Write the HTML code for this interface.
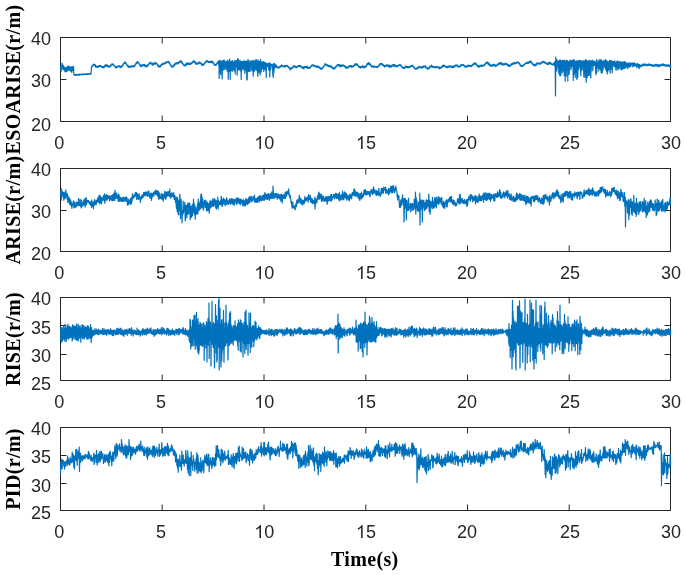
<!DOCTYPE html><html><head><meta charset="utf-8"><style>html,body{margin:0;padding:0;background:#fff;width:685px;height:575px;overflow:hidden}svg{display:block;filter:blur(0.45px)}text{font-family:"Liberation Sans",sans-serif;fill:#262626}.lab{font-family:"Liberation Serif",serif;font-weight:bold;font-size:20px;fill:#000;letter-spacing:0.33px}</style></head><body>
<svg width="685" height="575" viewBox="0 0 685 575">
<rect width="685" height="575" fill="#fff"/>
<path d="M60.5 37.5H670.5V121.5H60.5Z" fill="none" stroke="#262626" stroke-width="1"/>
<path d="M60.5 121.5v-6 M60.5 37.5v6 M162.2 121.5v-6 M162.2 37.5v6 M264.0 121.5v-6 M264.0 37.5v6 M365.8 121.5v-6 M365.8 37.5v6 M467.5 121.5v-6 M467.5 37.5v6 M569.2 121.5v-6 M569.2 37.5v6 M670.5 121.5v-6 M670.5 37.5v6 M60.5 37.5h6 M670.5 37.5h-6 M60.5 79.5h6 M670.5 79.5h-6 M60.5 121.5h6 M670.5 121.5h-6" stroke="#262626" stroke-width="1" fill="none"/>
<text x="51" y="45.0" font-size="18" text-anchor="end">40</text>
<text x="51" y="86.8" font-size="18" text-anchor="end">30</text>
<text x="51" y="130.5" font-size="18" text-anchor="end">20</text>
<text x="59.2" y="148.9" font-size="18" text-anchor="middle">0</text>
<text x="161.1" y="148.9" font-size="18" text-anchor="middle">5</text>
<path transform="translate(254.29 148.95) scale(0.00879 -0.00879)" fill="#262626" d="M763 0L583 0L583 1147C540 1106 483 1065 413 1024C343 983 279 952 223 931L223 1105C324 1152 412 1210 487 1278C562 1346 615 1409 646 1466L763 1466Z"/>
<text x="264.30" y="148.9" font-size="18">0</text>
<path transform="translate(355.94 148.95) scale(0.00879 -0.00879)" fill="#262626" d="M763 0L583 0L583 1147C540 1106 483 1065 413 1024C343 983 279 952 223 931L223 1105C324 1152 412 1210 487 1278C562 1346 615 1409 646 1466L763 1466Z"/>
<text x="365.95" y="148.9" font-size="18">5</text>
<text x="467.1" y="148.9" font-size="18" text-anchor="middle">20</text>
<text x="570.0" y="148.9" font-size="18" text-anchor="middle">25</text>
<text x="671.0" y="148.9" font-size="18" text-anchor="middle">30</text>
<text class="lab" transform="translate(20.3 79.5) rotate(-90)" text-anchor="middle">ESOARISE(r/m)</text>
<path d="M60.5 168.5H670.5V251.5H60.5Z" fill="none" stroke="#262626" stroke-width="1"/>
<path d="M60.5 251.5v-6 M60.5 168.5v6 M162.2 251.5v-6 M162.2 168.5v6 M264.0 251.5v-6 M264.0 168.5v6 M365.8 251.5v-6 M365.8 168.5v6 M467.5 251.5v-6 M467.5 168.5v6 M569.2 251.5v-6 M569.2 168.5v6 M670.5 251.5v-6 M670.5 168.5v6 M60.5 168.5h6 M670.5 168.5h-6 M60.5 210.5h6 M670.5 210.5h-6 M60.5 251.5h6 M670.5 251.5h-6" stroke="#262626" stroke-width="1" fill="none"/>
<text x="51" y="175.8" font-size="18" text-anchor="end">40</text>
<text x="51" y="217.8" font-size="18" text-anchor="end">30</text>
<text x="51" y="260.4" font-size="18" text-anchor="end">20</text>
<text x="59.2" y="278.9" font-size="18" text-anchor="middle">0</text>
<text x="161.1" y="278.9" font-size="18" text-anchor="middle">5</text>
<path transform="translate(254.29 278.95) scale(0.00879 -0.00879)" fill="#262626" d="M763 0L583 0L583 1147C540 1106 483 1065 413 1024C343 983 279 952 223 931L223 1105C324 1152 412 1210 487 1278C562 1346 615 1409 646 1466L763 1466Z"/>
<text x="264.30" y="278.9" font-size="18">0</text>
<path transform="translate(355.94 278.95) scale(0.00879 -0.00879)" fill="#262626" d="M763 0L583 0L583 1147C540 1106 483 1065 413 1024C343 983 279 952 223 931L223 1105C324 1152 412 1210 487 1278C562 1346 615 1409 646 1466L763 1466Z"/>
<text x="365.95" y="278.9" font-size="18">5</text>
<text x="467.1" y="278.9" font-size="18" text-anchor="middle">20</text>
<text x="570.0" y="278.9" font-size="18" text-anchor="middle">25</text>
<text x="671.0" y="278.9" font-size="18" text-anchor="middle">30</text>
<text class="lab" transform="translate(20.3 210.0) rotate(-90)" text-anchor="middle">ARISE(r/m)</text>
<path d="M60.5 297.5H670.5V380.5H60.5Z" fill="none" stroke="#262626" stroke-width="1"/>
<path d="M60.5 380.5v-6 M60.5 297.5v6 M162.2 380.5v-6 M162.2 297.5v6 M264.0 380.5v-6 M264.0 297.5v6 M365.8 380.5v-6 M365.8 297.5v6 M467.5 380.5v-6 M467.5 297.5v6 M569.2 380.5v-6 M569.2 297.5v6 M670.5 380.5v-6 M670.5 297.5v6 M60.5 297.5h6 M670.5 297.5h-6 M60.5 325.5h6 M670.5 325.5h-6 M60.5 354.5h6 M670.5 354.5h-6 M60.5 380.5h6 M670.5 380.5h-6" stroke="#262626" stroke-width="1" fill="none"/>
<text x="51" y="305.3" font-size="18" text-anchor="end">40</text>
<text x="51" y="333.8" font-size="18" text-anchor="end">35</text>
<text x="51" y="361.6" font-size="18" text-anchor="end">30</text>
<text x="51" y="389.6" font-size="18" text-anchor="end">25</text>
<text x="59.2" y="407.9" font-size="18" text-anchor="middle">0</text>
<text x="161.1" y="407.9" font-size="18" text-anchor="middle">5</text>
<path transform="translate(254.29 407.95) scale(0.00879 -0.00879)" fill="#262626" d="M763 0L583 0L583 1147C540 1106 483 1065 413 1024C343 983 279 952 223 931L223 1105C324 1152 412 1210 487 1278C562 1346 615 1409 646 1466L763 1466Z"/>
<text x="264.30" y="407.9" font-size="18">0</text>
<path transform="translate(355.94 407.95) scale(0.00879 -0.00879)" fill="#262626" d="M763 0L583 0L583 1147C540 1106 483 1065 413 1024C343 983 279 952 223 931L223 1105C324 1152 412 1210 487 1278C562 1346 615 1409 646 1466L763 1466Z"/>
<text x="365.95" y="407.9" font-size="18">5</text>
<text x="467.1" y="407.9" font-size="18" text-anchor="middle">20</text>
<text x="570.0" y="407.9" font-size="18" text-anchor="middle">25</text>
<text x="671.0" y="407.9" font-size="18" text-anchor="middle">30</text>
<text class="lab" transform="translate(20.3 339.0) rotate(-90)" text-anchor="middle">RISE(r/m)</text>
<path d="M60.5 427.5H670.5V510.5H60.5Z" fill="none" stroke="#262626" stroke-width="1"/>
<path d="M60.5 510.5v-6 M60.5 427.5v6 M162.2 510.5v-6 M162.2 427.5v6 M264.0 510.5v-6 M264.0 427.5v6 M365.8 510.5v-6 M365.8 427.5v6 M467.5 510.5v-6 M467.5 427.5v6 M569.2 510.5v-6 M569.2 427.5v6 M670.5 510.5v-6 M670.5 427.5v6 M60.5 427.5h6 M670.5 427.5h-6 M60.5 455.5h6 M670.5 455.5h-6 M60.5 483.5h6 M670.5 483.5h-6 M60.5 510.5h6 M670.5 510.5h-6" stroke="#262626" stroke-width="1" fill="none"/>
<text x="51" y="434.8" font-size="18" text-anchor="end">40</text>
<text x="51" y="463.4" font-size="18" text-anchor="end">35</text>
<text x="51" y="491.6" font-size="18" text-anchor="end">30</text>
<text x="51" y="519.2" font-size="18" text-anchor="end">25</text>
<text x="59.2" y="538.0" font-size="18" text-anchor="middle">0</text>
<text x="161.1" y="538.0" font-size="18" text-anchor="middle">5</text>
<path transform="translate(254.29 537.95) scale(0.00879 -0.00879)" fill="#262626" d="M763 0L583 0L583 1147C540 1106 483 1065 413 1024C343 983 279 952 223 931L223 1105C324 1152 412 1210 487 1278C562 1346 615 1409 646 1466L763 1466Z"/>
<text x="264.30" y="538.0" font-size="18">0</text>
<path transform="translate(355.94 537.95) scale(0.00879 -0.00879)" fill="#262626" d="M763 0L583 0L583 1147C540 1106 483 1065 413 1024C343 983 279 952 223 931L223 1105C324 1152 412 1210 487 1278C562 1346 615 1409 646 1466L763 1466Z"/>
<text x="365.95" y="538.0" font-size="18">5</text>
<text x="467.1" y="538.0" font-size="18" text-anchor="middle">20</text>
<text x="570.0" y="538.0" font-size="18" text-anchor="middle">25</text>
<text x="671.0" y="538.0" font-size="18" text-anchor="middle">30</text>
<text class="lab" transform="translate(20.3 469.0) rotate(-90)" text-anchor="middle">PID(r/m)</text>
<defs>
<clipPath id="c0"><rect x="59.5" y="37.0" width="612.0" height="85.0"/></clipPath>
<clipPath id="c1"><rect x="59.5" y="168.0" width="612.0" height="84.0"/></clipPath>
<clipPath id="c2"><rect x="59.5" y="297.0" width="612.0" height="84.0"/></clipPath>
<clipPath id="c3"><rect x="59.5" y="427.0" width="612.0" height="84.0"/></clipPath>
</defs>
<path clip-path="url(#c0)" d="M60.5 66.4L60.8 69.6 61.0 66.0 61.2 71.2 61.5 66.1 61.8 68.5 62.0 63.2 62.2 68.3 62.5 63.8 62.8 68.5 63.0 65.6 63.2 69.7 63.5 65.6 63.8 69.9 64.0 66.6 64.2 69.9 64.5 67.8 64.8 71.3 65.0 67.6 65.2 70.4 65.5 67.8 65.8 71.7 66.0 67.9 66.2 71.9 66.5 68.9 66.8 71.1 67.0 66.8 67.2 69.8 67.5 67.0 67.8 70.8 68.0 66.2 68.2 69.7 68.5 66.2 68.8 69.9 69.0 66.5 69.2 70.1 69.5 67.1 69.8 70.2 70.0 66.4 70.2 70.4 70.5 67.4 70.8 71.4 71.0 67.6 71.2 69.6 71.5 66.8 71.8 72.4 72.0 66.8 72.2 70.4 72.5 67.4 72.8 69.0 73.0 66.7 73.2 70.4 73.5 66.3 73.8 73.8 74.0 74.8 74.2 75.2 74.5 74.7 74.8 75.5 75.0 74.8 75.2 75.1 75.5 74.6 75.8 75.3 76.0 74.6 76.2 74.9 76.5 74.3 76.8 75.1 77.0 74.5 77.2 75.1 77.5 74.5 77.8 74.9 78.0 74.4 78.2 75.1 78.5 74.4 78.8 74.8 79.0 74.4 79.2 75.1 79.5 74.2 79.8 75.1 80.0 74.3 80.2 74.7 80.5 74.3 80.8 74.6 81.0 74.3 81.2 74.7 81.5 74.3 81.8 74.7 82.0 74.2 82.2 74.7 82.5 74.1 82.8 74.6 83.0 74.1 83.2 74.6 83.5 74.1 83.8 74.5 84.0 74.1 84.2 74.4 84.5 74.0 84.8 74.4 85.0 74.0 85.2 74.3 85.5 74.0 85.8 74.4 86.0 73.9 86.2 74.3 86.5 73.9 86.8 74.4 87.0 73.8 87.2 74.6 87.5 73.8 87.8 74.3 88.0 73.7 88.2 74.3 88.5 73.8 88.8 74.2 89.0 73.8 89.2 74.1 89.5 73.7 89.8 74.4 90.0 73.7 90.2 74.1 90.5 73.5 90.8 74.1 91.0 73.5 91.2 71.0 91.5 66.6 91.8 67.3 92.0 65.9 92.2 66.5 92.5 65.5 92.8 65.9 93.0 64.9 93.2 65.3 93.5 64.1 93.8 65.4 94.0 64.4 94.2 65.4 94.5 64.5 94.8 65.4 95.0 64.8 95.2 66.0 95.5 64.8 95.8 67.1 96.0 66.1 96.2 67.0 96.5 66.4 96.8 67.2 97.0 66.5 97.2 67.4 97.5 66.4 97.8 67.4 98.0 66.2 98.2 67.4 98.5 65.9 98.8 66.6 99.0 65.7 99.2 66.6 99.5 65.6 99.8 66.5 100.0 65.4 100.2 66.3 100.5 65.5 100.8 66.6 101.0 65.9 101.2 66.9 101.5 66.5 101.8 67.3 102.0 66.4 102.2 67.5 102.5 66.7 102.8 67.7 103.0 66.6 103.2 67.9 103.5 67.0 103.8 67.4 104.0 66.3 104.2 67.7 104.5 65.9 104.8 66.7 105.0 65.4 105.2 66.3 105.5 64.5 105.8 66.0 106.0 65.3 106.2 66.2 106.5 65.0 106.8 65.9 107.0 64.6 107.2 66.4 107.5 65.4 107.8 66.5 108.0 65.7 108.2 66.9 108.5 66.0 108.8 67.1 109.0 65.8 109.2 67.0 109.5 66.0 109.8 67.1 110.0 66.0 110.2 66.9 110.5 65.3 110.8 66.0 111.0 64.7 111.2 65.4 111.5 64.6 111.8 64.8 112.0 63.5 112.2 64.8 112.5 64.0 112.8 64.9 113.0 64.1 113.2 65.0 113.5 64.5 113.8 65.6 114.0 65.0 114.2 65.9 114.5 65.8 114.8 66.5 115.0 66.2 115.2 67.1 115.5 66.4 115.8 67.6 116.0 66.5 116.2 68.1 116.5 66.5 116.8 67.5 117.0 66.3 117.2 66.9 117.5 66.4 117.8 66.9 118.0 66.2 118.2 66.8 118.5 65.9 118.8 66.6 119.0 65.9 119.2 66.5 119.5 65.8 119.8 66.9 120.0 66.0 120.2 67.6 120.5 66.1 120.8 67.1 121.0 66.2 121.2 66.9 121.5 66.2 121.8 67.3 122.0 65.6 122.2 66.1 122.5 64.9 122.8 65.5 123.0 64.2 123.2 65.1 123.5 63.3 123.8 63.7 124.0 63.0 124.2 63.6 124.5 62.3 124.8 63.4 125.0 61.7 125.2 63.3 125.5 62.6 125.8 63.8 126.0 63.1 126.2 64.1 126.5 63.7 126.8 65.1 127.0 64.8 127.2 65.7 127.5 65.3 127.8 66.7 128.0 65.4 128.2 67.1 128.5 66.6 128.8 67.4 129.0 66.3 129.2 67.5 129.5 66.3 129.8 67.3 130.0 66.4 130.2 66.7 130.5 66.3 130.8 67.0 131.0 65.8 131.2 67.1 131.5 65.9 131.8 66.8 132.0 66.1 132.2 66.6 132.5 66.0 132.8 66.8 133.0 65.9 133.2 66.8 133.5 65.9 133.8 66.7 134.0 65.4 134.2 66.3 134.5 65.0 134.8 66.3 135.0 64.6 135.2 65.1 135.5 63.8 135.8 64.2 136.0 63.1 136.2 63.8 136.5 62.4 136.8 63.7 137.0 62.3 137.2 62.6 137.5 61.5 137.8 62.8 138.0 62.0 138.2 62.9 138.5 62.3 138.8 63.6 139.0 63.2 139.2 64.3 139.5 64.2 139.8 65.0 140.0 64.7 140.2 66.2 140.5 64.9 140.8 66.8 141.0 65.0 141.2 66.3 141.5 65.2 141.8 66.0 142.0 65.1 142.2 66.1 142.5 64.6 142.8 65.8 143.0 64.9 143.2 65.5 143.5 64.7 143.8 65.6 144.0 64.7 144.2 65.7 144.5 64.4 144.8 66.2 145.0 65.2 145.2 66.3 145.5 65.4 145.8 67.1 146.0 65.0 146.2 66.6 146.5 65.7 146.8 66.5 147.0 65.5 147.2 65.9 147.5 65.0 147.8 66.3 148.0 64.4 148.2 65.2 148.5 63.8 148.8 64.6 149.0 63.5 149.2 64.0 149.5 62.9 149.8 63.7 150.0 62.7 150.2 63.6 150.5 62.0 150.8 63.6 151.0 62.8 151.2 63.8 151.5 63.3 151.8 64.3 152.0 63.1 152.2 64.6 152.5 63.3 152.8 65.3 153.0 63.6 153.2 64.8 153.5 63.2 153.8 64.5 154.0 63.5 154.2 64.2 154.5 63.3 154.8 63.7 155.0 62.4 155.2 64.2 155.5 62.8 155.8 63.8 156.0 62.8 156.2 63.7 156.5 63.0 156.8 64.2 157.0 63.7 157.2 64.7 157.5 64.1 157.8 65.8 158.0 64.9 158.2 66.8 158.5 65.5 158.8 66.5 159.0 66.0 159.2 67.0 159.5 66.2 159.8 66.9 160.0 65.9 160.2 67.1 160.5 65.2 160.8 66.0 161.0 65.4 161.2 65.6 161.5 64.4 161.8 65.4 162.0 63.9 162.2 64.4 162.5 63.5 162.8 64.3 163.0 63.3 163.2 64.1 163.5 63.2 163.8 64.4 164.0 63.1 164.2 63.9 164.5 63.0 164.8 63.7 165.0 63.0 165.2 63.7 165.5 62.1 165.8 63.5 166.0 62.3 166.2 63.1 166.5 61.8 166.8 62.5 167.0 61.8 167.2 62.3 167.5 61.5 167.8 62.1 168.0 61.2 168.2 62.5 168.5 61.3 168.8 63.0 169.0 61.9 169.2 63.2 169.5 62.5 169.8 63.8 170.0 63.6 170.2 64.9 170.5 64.5 170.8 65.8 171.0 65.3 171.2 66.4 171.5 65.8 171.8 67.0 172.0 66.5 172.2 66.9 172.5 66.1 172.8 67.4 173.0 65.9 173.2 66.7 173.5 65.0 173.8 66.0 174.0 64.6 174.2 65.8 174.5 63.8 174.8 65.3 175.0 63.4 175.2 64.3 175.5 63.2 175.8 64.2 176.0 63.0 176.2 64.1 176.5 62.9 176.8 63.6 177.0 62.9 177.2 63.7 177.5 62.6 177.8 63.5 178.0 62.6 178.2 63.9 178.5 62.2 178.8 63.0 179.0 62.1 179.2 62.3 179.5 61.4 179.8 62.3 180.0 61.1 180.2 62.2 180.5 61.0 180.8 61.8 181.0 60.5 181.2 62.2 181.5 61.0 181.8 62.7 182.0 61.9 182.2 63.3 182.5 62.7 182.8 63.7 183.0 63.7 183.2 64.9 183.5 64.4 183.8 65.3 184.0 64.8 184.2 65.9 184.5 65.0 184.8 65.6 185.0 65.0 185.2 65.6 185.5 64.1 185.8 65.9 186.0 64.1 186.2 65.4 186.5 63.1 186.8 64.5 187.0 63.4 187.2 64.3 187.5 63.1 187.8 64.1 188.0 63.2 188.2 64.3 188.5 63.0 188.8 64.0 189.0 63.2 189.2 64.4 189.5 63.4 189.8 64.4 190.0 63.5 190.2 64.4 190.5 63.3 190.8 64.0 191.0 63.2 191.2 64.0 191.5 62.6 191.8 63.5 192.0 62.5 192.2 63.0 192.5 61.6 192.8 62.6 193.0 61.3 193.2 62.3 193.5 60.9 193.8 62.1 194.0 60.7 194.2 62.2 194.5 61.6 194.8 62.3 195.0 61.7 195.2 63.2 195.5 62.1 195.8 63.5 196.0 62.8 196.2 64.4 196.5 62.7 196.8 64.5 197.0 63.2 197.2 63.7 197.5 63.2 197.8 63.5 198.0 63.0 198.2 63.6 198.5 62.5 198.8 63.9 199.0 61.8 199.2 63.1 199.5 62.2 199.8 63.0 200.0 62.3 200.2 63.4 200.5 62.6 200.8 63.7 201.0 62.9 201.2 64.1 201.5 63.5 201.8 65.3 202.0 63.9 202.2 65.0 202.5 64.3 202.8 65.2 203.0 64.3 203.2 65.3 203.5 64.1 203.8 65.0 204.0 63.6 204.2 64.4 204.5 63.0 204.8 63.6 205.0 62.3 205.2 62.9 205.5 61.5 205.8 62.2 206.0 61.2 206.2 61.9 206.5 60.7 206.8 61.7 207.0 60.9 207.2 61.8 207.5 61.1 207.8 61.7 208.0 61.1 208.2 62.4 208.5 61.6 208.8 62.3 209.0 61.7 209.2 62.3 209.5 61.6 209.8 62.5 210.0 61.6 210.2 62.6 210.5 61.4 210.8 62.5 211.0 61.2 211.2 62.7 211.5 61.4 211.8 62.0 212.0 61.7 212.2 62.5 212.5 61.1 212.8 62.9 213.0 62.7 213.2 63.4 213.5 62.8 213.8 64.0 214.0 63.7 214.2 65.0 214.5 64.0 214.8 65.3 215.0 64.5 215.2 65.4 215.5 64.5 215.8 65.3 216.0 64.2 216.2 65.0 216.5 63.9 216.8 64.3 217.0 63.2 217.2 63.6 217.5 62.2 217.8 62.9 218.0 61.5 218.2 63.3 218.5 60.9 218.8 65.5 219.0 61.9 219.2 78.5 219.5 60.6 219.8 72.4 220.0 60.3 220.2 66.4 220.5 61.7 220.8 74.6 221.0 61.4 221.2 70.0 221.5 61.8 221.8 70.4 222.0 60.9 222.2 79.1 222.5 61.1 222.8 70.1 223.0 60.6 223.2 64.6 223.5 60.7 223.8 69.8 224.0 59.8 224.2 65.8 224.5 60.5 224.8 66.5 225.0 61.8 225.2 69.5 225.5 62.2 225.8 67.6 226.0 61.8 226.2 68.2 226.5 61.4 226.8 69.1 227.0 61.8 227.2 71.0 227.5 60.1 227.8 71.4 228.0 61.8 228.2 79.2 228.5 61.8 228.8 66.1 229.0 61.4 229.2 71.3 229.5 59.1 229.8 65.9 230.0 62.0 230.2 79.4 230.5 61.0 230.8 70.5 231.0 62.0 231.2 70.4 231.5 61.4 231.8 65.6 232.0 61.6 232.2 71.5 232.5 60.6 232.8 63.8 233.0 61.8 233.2 69.6 233.5 62.6 233.8 63.4 234.0 62.6 234.2 70.8 234.5 60.7 234.8 66.4 235.0 61.1 235.2 73.9 235.5 61.2 235.8 66.8 236.0 60.5 236.2 66.9 236.5 60.6 236.8 63.8 237.0 60.8 237.2 75.2 237.5 58.9 237.8 69.3 238.0 60.3 238.2 66.9 238.5 59.2 238.8 69.9 239.0 62.5 239.2 64.6 239.5 61.2 239.8 69.6 240.0 60.3 240.2 70.6 240.5 61.2 240.8 66.6 241.0 62.0 241.2 79.4 241.5 61.7 241.8 64.3 242.0 61.5 242.2 68.9 242.5 61.4 242.8 63.7 243.0 61.3 243.2 69.8 243.5 62.2 243.8 68.6 244.0 61.0 244.2 65.1 244.5 60.9 244.8 73.4 245.0 61.3 245.2 70.9 245.5 62.2 245.8 69.4 246.0 61.1 246.2 63.8 246.5 61.3 246.8 80.1 247.0 61.4 247.2 79.7 247.5 61.3 247.8 67.3 248.0 59.4 248.2 71.4 248.5 62.6 248.8 64.9 249.0 60.8 249.2 71.1 249.5 62.3 249.8 71.5 250.0 62.0 250.2 70.9 250.5 60.9 250.8 63.2 251.0 62.7 251.2 66.5 251.5 60.9 251.8 70.3 252.0 61.9 252.2 70.9 252.5 62.1 252.8 66.8 253.0 60.1 253.2 76.2 253.5 61.3 253.8 67.8 254.0 62.2 254.2 71.7 254.5 60.6 254.8 65.5 255.0 61.8 255.2 69.8 255.5 61.2 255.8 64.4 256.0 59.3 256.2 69.4 256.5 60.4 256.8 70.7 257.0 61.0 257.2 70.8 257.5 62.9 257.8 76.5 258.0 59.7 258.2 71.3 258.5 62.0 258.8 72.7 259.0 61.3 259.2 71.8 259.5 62.0 259.8 64.0 260.0 61.3 260.2 74.9 260.5 59.3 260.8 63.1 261.0 61.9 261.2 72.1 261.5 62.5 261.8 69.0 262.0 62.0 262.2 63.4 262.5 62.5 262.8 68.9 263.0 61.7 263.2 65.1 263.5 61.8 263.8 71.4 264.0 62.0 264.2 68.5 264.5 63.6 264.8 67.8 265.0 62.5 265.2 69.6 265.5 62.8 265.8 70.5 266.0 62.9 266.2 77.4 266.5 63.5 266.8 64.7 267.0 63.9 267.2 66.8 267.5 64.1 267.8 65.3 268.0 63.3 268.2 66.4 268.5 63.6 268.8 69.6 269.0 63.0 269.2 70.4 269.5 62.5 269.8 76.9 270.0 63.4 270.2 66.0 270.5 64.3 270.8 69.6 271.0 64.4 271.2 66.7 271.5 64.4 271.8 65.2 272.0 64.4 272.2 65.5 272.5 64.5 272.8 75.3 273.0 64.3 273.2 77.5 273.5 64.0 273.8 73.0 274.0 63.3 274.2 70.1 274.5 63.7 274.8 66.2 275.0 64.5 275.2 67.2 275.5 64.7 275.8 67.5 276.0 65.1 276.2 66.9 276.5 65.3 276.8 67.0 277.0 66.4 277.2 67.7 277.5 67.1 277.8 68.0 278.0 67.2 278.2 68.2 278.5 67.5 278.8 67.9 279.0 67.0 279.2 68.0 279.5 66.7 279.8 67.6 280.0 66.2 280.2 67.0 280.5 65.8 280.8 66.7 281.0 65.6 281.2 66.5 281.5 64.8 281.8 66.4 282.0 65.4 282.2 66.2 282.5 65.8 282.8 66.5 283.0 65.8 283.2 66.8 283.5 66.0 283.8 66.7 284.0 65.8 284.2 66.9 284.5 65.8 284.8 66.9 285.0 65.4 285.2 66.5 285.5 65.7 285.8 66.6 286.0 65.5 286.2 66.3 286.5 65.4 286.8 66.2 287.0 65.4 287.2 66.2 287.5 65.8 287.8 66.9 288.0 66.1 288.2 67.3 288.5 66.7 288.8 67.7 289.0 67.0 289.2 68.7 289.5 67.7 289.8 68.9 290.0 68.0 290.2 69.9 290.5 68.2 290.8 69.4 291.0 68.2 291.2 69.0 291.5 67.9 291.8 68.6 292.0 67.4 292.2 68.0 292.5 67.0 292.8 67.8 293.0 66.6 293.2 67.3 293.5 65.5 293.8 66.9 294.0 65.9 294.2 66.9 294.5 66.0 294.8 66.9 295.0 66.0 295.2 67.2 295.5 66.2 295.8 67.2 296.0 66.5 296.2 68.0 296.5 66.5 296.8 67.4 297.0 66.6 297.2 67.2 297.5 66.2 297.8 67.0 298.0 65.7 298.2 66.5 298.5 65.6 298.8 66.4 299.0 65.5 299.2 66.5 299.5 65.5 299.8 66.2 300.0 65.3 300.2 66.6 300.5 65.5 300.8 66.5 301.0 66.0 301.2 67.1 301.5 66.6 301.8 67.8 302.0 66.9 302.2 68.0 302.5 67.5 302.8 68.2 303.0 67.2 303.2 68.6 303.5 67.4 303.8 68.8 304.0 66.6 304.2 68.0 304.5 66.4 304.8 67.6 305.0 66.7 305.2 67.5 305.5 66.5 305.8 67.6 306.0 66.6 306.2 67.3 306.5 66.3 306.8 67.8 307.0 66.5 307.2 67.8 307.5 66.3 307.8 68.1 308.0 67.2 308.2 68.3 308.5 67.5 308.8 68.4 309.0 67.5 309.2 68.3 309.5 67.3 309.8 68.1 310.0 67.0 310.2 67.9 310.5 66.7 310.8 67.1 311.0 66.1 311.2 66.3 311.5 65.4 311.8 66.2 312.0 64.9 312.2 65.8 312.5 64.8 312.8 65.7 313.0 65.1 313.2 65.6 313.5 64.8 313.8 65.7 314.0 65.2 314.2 66.3 314.5 65.5 314.8 66.4 315.0 65.7 315.2 66.6 315.5 65.9 315.8 66.9 316.0 66.3 316.2 67.1 316.5 66.2 316.8 67.5 317.0 66.1 317.2 67.1 317.5 66.2 317.8 67.1 318.0 66.2 318.2 67.2 318.5 66.4 318.8 67.6 319.0 66.5 319.2 67.9 319.5 67.3 319.8 68.3 320.0 67.6 320.2 68.9 320.5 68.0 320.8 69.1 321.0 68.2 321.2 69.4 321.5 68.3 321.8 69.0 322.0 68.2 322.2 68.8 322.5 67.7 322.8 68.2 323.0 66.8 323.2 67.4 323.5 66.1 323.8 66.5 324.0 65.5 324.2 65.6 324.5 65.0 324.8 65.6 325.0 63.7 325.2 65.0 325.5 64.2 325.8 64.9 326.0 64.2 326.2 65.2 326.5 64.3 326.8 65.1 327.0 64.7 327.2 65.6 327.5 64.9 327.8 66.2 328.0 65.3 328.2 66.4 328.5 65.4 328.8 66.6 329.0 65.7 329.2 66.4 329.5 65.4 329.8 66.8 330.0 65.9 330.2 66.8 330.5 65.9 330.8 66.9 331.0 66.1 331.2 67.1 331.5 66.3 331.8 67.6 332.0 66.7 332.2 68.2 332.5 67.4 332.8 68.7 333.0 68.0 333.2 69.0 333.5 68.3 333.8 68.9 334.0 67.7 334.2 69.1 334.5 67.9 334.8 68.7 335.0 67.4 335.2 68.2 335.5 66.7 335.8 67.5 336.0 66.2 336.2 66.8 336.5 65.6 336.8 66.2 337.0 65.0 337.2 65.8 337.5 64.7 337.8 65.3 338.0 64.3 338.2 65.4 338.5 64.7 338.8 65.9 339.0 64.6 339.2 65.9 339.5 65.2 339.8 66.0 340.0 64.9 340.2 66.9 340.5 65.4 340.8 66.3 341.0 64.9 341.2 66.4 341.5 65.5 341.8 66.3 342.0 65.2 342.2 66.2 342.5 65.0 342.8 65.8 343.0 65.0 343.2 66.0 343.5 65.1 343.8 66.1 344.0 65.3 344.2 66.2 344.5 65.7 344.8 67.0 345.0 66.3 345.2 67.1 345.5 66.3 345.8 68.2 346.0 67.0 346.2 68.0 346.5 66.8 346.8 68.3 347.0 67.5 347.2 68.0 347.5 67.0 347.8 68.1 348.0 66.6 348.2 67.5 348.5 66.4 348.8 67.1 349.0 66.2 349.2 66.5 349.5 65.7 349.8 66.7 350.0 65.5 350.2 66.1 350.5 65.9 350.8 66.5 351.0 65.7 351.2 67.3 351.5 65.7 351.8 67.0 352.0 65.9 352.2 66.9 352.5 66.1 352.8 67.1 353.0 65.9 353.2 66.5 353.5 65.5 353.8 66.4 354.0 65.4 354.2 65.8 354.5 64.2 354.8 65.5 355.0 64.3 355.2 65.1 355.5 63.9 355.8 64.9 356.0 63.7 356.2 64.5 356.5 64.1 356.8 65.0 357.0 64.1 357.2 65.4 357.5 64.1 357.8 65.7 358.0 65.5 358.2 66.5 358.5 66.0 358.8 67.1 359.0 66.2 359.2 67.3 359.5 66.4 359.8 67.7 360.0 66.6 360.2 67.6 360.5 66.8 360.8 68.1 361.0 66.7 361.2 67.5 361.5 66.3 361.8 67.2 362.0 66.7 362.2 67.3 362.5 65.7 362.8 67.2 363.0 66.6 363.2 67.4 363.5 66.6 363.8 67.7 364.0 66.2 364.2 67.7 364.5 66.3 364.8 67.7 365.0 66.6 365.2 67.6 365.5 66.2 365.8 66.6 366.0 65.6 366.2 66.7 366.5 65.1 366.8 65.7 367.0 63.7 367.2 65.0 367.5 63.7 367.8 64.5 368.0 63.2 368.2 64.1 368.5 62.9 368.8 63.7 369.0 62.7 369.2 64.7 369.5 63.5 369.8 64.2 370.0 63.6 370.2 65.0 370.5 64.4 370.8 65.8 371.0 65.0 371.2 66.4 371.5 65.6 371.8 67.1 372.0 65.9 372.2 66.8 372.5 66.2 372.8 67.0 373.0 66.3 373.2 67.1 373.5 66.2 373.8 67.6 374.0 66.4 374.2 67.2 374.5 66.2 374.8 66.7 375.0 66.3 375.2 67.1 375.5 66.6 375.8 67.0 376.0 66.5 376.2 67.3 376.5 66.5 376.8 67.4 377.0 66.6 377.2 67.6 377.5 66.5 377.8 67.3 378.0 66.1 378.2 66.6 378.5 65.9 378.8 66.2 379.0 65.2 379.2 65.7 379.5 64.5 379.8 65.3 380.0 63.6 380.2 64.7 380.5 63.5 380.8 64.5 381.0 63.3 381.2 64.2 381.5 63.5 381.8 64.1 382.0 63.5 382.2 64.8 382.5 64.1 382.8 65.4 383.0 64.5 383.2 65.7 383.5 64.9 383.8 66.3 384.0 65.1 384.2 66.4 384.5 65.8 384.8 67.2 385.0 65.7 385.2 66.4 385.5 65.8 385.8 66.4 386.0 65.2 386.2 66.2 386.5 65.0 386.8 66.1 387.0 64.5 387.2 65.9 387.5 65.1 387.8 66.2 388.0 65.2 388.2 66.0 388.5 65.4 388.8 66.8 389.0 65.6 389.2 66.7 389.5 65.2 389.8 67.5 390.0 65.4 390.2 66.9 390.5 66.1 390.8 66.9 391.0 65.9 391.2 66.6 391.5 65.7 391.8 67.0 392.0 65.1 392.2 66.2 392.5 64.9 392.8 65.9 393.0 64.9 393.2 65.7 393.5 64.6 393.8 66.1 394.0 64.9 394.2 66.2 394.5 64.3 394.8 66.0 395.0 65.1 395.2 66.8 395.5 65.4 395.8 66.4 396.0 65.4 396.2 66.4 396.5 65.9 396.8 66.7 397.0 66.0 397.2 66.8 397.5 65.6 397.8 66.5 398.0 65.5 398.2 66.1 398.5 65.1 398.8 65.6 399.0 64.9 399.2 65.3 399.5 64.5 399.8 65.4 400.0 64.8 400.2 65.6 400.5 64.7 400.8 66.1 401.0 65.0 401.2 66.2 401.5 66.1 401.8 67.2 402.0 66.4 402.2 67.7 402.5 67.2 402.8 68.0 403.0 67.3 403.2 68.5 403.5 67.4 403.8 68.3 404.0 67.5 404.2 67.8 404.5 67.1 404.8 68.5 405.0 66.8 405.2 67.6 405.5 66.2 405.8 67.3 406.0 66.4 406.2 67.3 406.5 66.7 406.8 67.5 407.0 66.4 407.2 67.3 407.5 66.6 407.8 67.8 408.0 66.6 408.2 67.6 408.5 66.7 408.8 67.7 409.0 66.7 409.2 67.7 409.5 66.7 409.8 67.3 410.0 66.3 410.2 67.2 410.5 66.2 410.8 66.7 411.0 65.6 411.2 66.5 411.5 65.6 411.8 66.3 412.0 65.3 412.2 66.2 412.5 65.3 412.8 66.3 413.0 65.8 413.2 66.9 413.5 66.2 413.8 67.6 414.0 67.0 414.2 68.1 414.5 67.6 414.8 68.9 415.0 68.3 415.2 69.2 415.5 68.5 415.8 69.2 416.0 68.3 416.2 69.0 416.5 68.1 416.8 69.1 417.0 67.9 417.2 68.6 417.5 67.3 417.8 68.3 418.0 67.2 418.2 68.4 418.5 66.9 418.8 67.7 419.0 66.8 419.2 67.5 419.5 66.4 419.8 67.7 420.0 67.1 420.2 67.7 420.5 66.8 420.8 67.8 421.0 67.0 421.2 67.9 421.5 66.9 421.8 67.7 422.0 66.7 422.2 68.1 422.5 66.7 422.8 67.7 423.0 66.3 423.2 67.3 423.5 66.2 423.8 67.1 424.0 66.0 424.2 66.8 424.5 66.1 424.8 67.0 425.0 66.2 425.2 67.2 425.5 65.8 425.8 67.6 426.0 66.9 426.2 68.0 426.5 67.2 426.8 68.3 427.0 67.6 427.2 68.8 427.5 68.2 427.8 69.4 428.0 67.8 428.2 68.9 428.5 67.8 428.8 68.7 429.0 67.6 429.2 68.6 429.5 66.9 429.8 67.7 430.0 66.0 430.2 67.2 430.5 66.0 430.8 66.9 431.0 65.8 431.2 67.2 431.5 65.2 431.8 66.7 432.0 66.0 432.2 66.8 432.5 66.0 432.8 67.2 433.0 66.3 433.2 67.5 433.5 66.6 433.8 67.5 434.0 67.2 434.2 67.6 434.5 67.2 434.8 67.8 435.0 66.3 435.2 67.8 435.5 66.5 435.8 67.6 436.0 67.0 436.2 67.5 436.5 66.7 436.8 67.0 437.0 66.3 437.2 67.5 437.5 66.7 437.8 67.5 438.0 67.0 438.2 67.8 438.5 66.9 438.8 68.5 439.0 67.1 439.2 68.8 439.5 67.2 439.8 68.6 440.0 67.6 440.2 68.5 440.5 67.5 440.8 68.3 441.0 67.4 441.2 67.8 441.5 66.7 441.8 67.4 442.0 66.0 442.2 67.5 442.5 65.7 442.8 66.4 443.0 65.4 443.2 66.0 443.5 65.1 443.8 66.0 444.0 65.0 444.2 66.7 444.5 65.3 444.8 66.2 445.0 66.0 445.2 66.8 445.5 66.2 445.8 66.8 446.0 66.5 446.2 67.4 446.5 66.7 446.8 67.6 447.0 66.9 447.2 67.8 447.5 66.7 447.8 67.4 448.0 66.2 448.2 67.5 448.5 66.2 448.8 67.2 449.0 66.2 449.2 67.1 449.5 66.0 449.8 66.7 450.0 66.0 450.2 66.8 450.5 65.9 450.8 67.0 451.0 66.5 451.2 67.3 451.5 66.4 451.8 67.5 452.0 66.1 452.2 67.6 452.5 66.7 452.8 67.6 453.0 66.0 453.2 67.4 453.5 66.3 453.8 67.3 454.0 66.1 454.2 66.9 454.5 65.8 454.8 67.0 455.0 65.4 455.2 66.0 455.5 65.0 455.8 65.7 456.0 64.8 456.2 65.9 456.5 65.2 456.8 65.7 457.0 65.2 457.2 66.0 457.5 65.0 457.8 66.6 458.0 65.9 458.2 67.0 458.5 66.3 458.8 67.2 459.0 66.2 459.2 67.2 459.5 66.3 459.8 66.6 460.0 65.9 460.2 66.5 460.5 65.5 460.8 66.3 461.0 64.5 461.2 65.5 461.5 64.8 461.8 65.3 462.0 64.6 462.2 65.3 462.5 64.6 462.8 65.2 463.0 64.7 463.2 65.5 463.5 64.7 463.8 65.7 464.0 65.1 464.2 66.2 464.5 65.5 464.8 66.8 465.0 65.9 465.2 67.1 465.5 66.1 465.8 67.3 466.0 66.1 466.2 67.1 466.5 66.2 466.8 66.8 467.0 65.9 467.2 66.6 467.5 65.8 467.8 66.6 468.0 65.4 468.2 66.3 468.5 65.2 468.8 66.2 469.0 65.4 469.2 66.3 469.5 65.4 469.8 66.2 470.0 65.6 470.2 66.5 470.5 65.7 470.8 66.7 471.0 65.9 471.2 66.6 471.5 65.1 471.8 66.2 472.0 65.2 472.2 65.9 472.5 64.7 472.8 65.3 473.0 64.2 473.2 64.6 473.5 63.4 473.8 64.0 474.0 63.4 474.2 64.4 474.5 62.8 474.8 64.1 475.0 62.9 475.2 63.9 475.5 63.1 475.8 64.3 476.0 63.6 476.2 64.9 476.5 63.9 476.8 65.5 477.0 64.9 477.2 65.9 477.5 65.5 477.8 66.6 478.0 65.7 478.2 66.7 478.5 65.4 478.8 67.4 479.0 66.0 479.2 66.8 479.5 65.9 479.8 66.7 480.0 65.9 480.2 66.1 480.5 65.4 480.8 66.2 481.0 65.2 481.2 66.7 481.5 65.4 481.8 66.2 482.0 65.0 482.2 66.1 482.5 65.3 482.8 66.1 483.0 65.4 483.2 66.2 483.5 65.2 483.8 65.7 484.0 64.8 484.2 65.5 484.5 64.4 484.8 65.2 485.0 63.9 485.2 64.7 485.5 63.0 485.8 63.8 486.0 62.7 486.2 63.5 486.5 62.6 486.8 63.3 487.0 61.9 487.2 63.1 487.5 62.3 487.8 62.9 488.0 62.5 488.2 64.4 488.5 63.1 488.8 64.1 489.0 63.0 489.2 64.9 489.5 64.2 489.8 65.9 490.0 64.8 490.2 65.9 490.5 64.8 490.8 66.2 491.0 65.3 491.2 66.2 491.5 65.3 491.8 66.3 492.0 64.7 492.2 66.1 492.5 64.9 492.8 65.9 493.0 64.7 493.2 65.7 493.5 64.5 493.8 65.5 494.0 64.4 494.2 65.7 494.5 64.0 494.8 65.8 495.0 65.0 495.2 65.9 495.5 65.1 495.8 66.7 496.0 65.2 496.2 66.1 496.5 65.0 496.8 65.8 497.0 64.8 497.2 65.6 497.5 64.4 497.8 64.9 498.0 63.7 498.2 64.7 498.5 63.4 498.8 64.2 499.0 63.2 499.2 64.3 499.5 62.9 499.8 63.5 500.0 62.6 500.2 63.5 500.5 62.7 500.8 64.1 501.0 62.5 501.2 64.5 501.5 63.6 501.8 64.9 502.0 63.2 502.2 64.9 502.5 63.6 502.8 64.7 503.0 63.9 503.2 64.8 503.5 64.0 503.8 65.1 504.0 63.8 504.2 65.0 504.5 63.8 504.8 64.5 505.0 63.3 505.2 64.3 505.5 63.4 505.8 64.1 506.0 63.2 506.2 64.3 506.5 63.5 506.8 64.8 507.0 63.8 507.2 64.7 507.5 64.3 507.8 65.5 508.0 64.8 508.2 66.0 508.5 64.6 508.8 66.1 509.0 65.6 509.2 66.6 509.5 65.4 509.8 66.4 510.0 65.6 510.2 66.2 510.5 64.9 510.8 65.4 511.0 64.6 511.2 65.1 511.5 63.7 511.8 64.8 512.0 63.4 512.2 64.3 512.5 63.1 512.8 64.5 513.0 63.2 513.2 63.9 513.5 62.8 513.8 63.9 514.0 63.1 514.2 63.5 514.5 62.4 514.8 64.0 515.0 63.0 515.2 63.8 515.5 62.9 515.8 63.7 516.0 62.6 516.2 63.4 516.5 62.2 516.8 63.1 517.0 62.1 517.2 62.9 517.5 62.0 517.8 62.6 518.0 62.2 518.2 62.9 518.5 62.1 518.8 63.3 519.0 62.5 519.2 63.8 519.5 63.1 519.8 64.4 520.0 64.1 520.2 65.6 520.5 64.7 520.8 65.9 521.0 65.3 521.2 66.4 521.5 65.8 521.8 66.8 522.0 65.6 522.2 66.6 522.5 65.6 522.8 66.3 523.0 65.2 523.2 66.0 523.5 64.8 523.8 65.5 524.0 64.5 524.2 65.0 524.5 64.1 524.8 64.4 525.0 63.3 525.2 64.2 525.5 63.2 525.8 63.6 526.0 62.8 526.2 63.6 526.5 62.7 526.8 63.5 527.0 62.6 527.2 63.3 527.5 62.5 527.8 63.5 528.0 61.8 528.2 63.1 528.5 62.1 528.8 63.3 529.0 62.0 529.2 62.7 529.5 61.4 529.8 62.5 530.0 61.3 530.2 62.2 530.5 61.0 530.8 62.3 531.0 60.9 531.2 62.9 531.5 62.0 531.8 63.1 532.0 62.5 532.2 63.8 532.5 63.4 532.8 64.6 533.0 63.8 533.2 65.0 533.5 64.5 533.8 65.6 534.0 64.8 534.2 65.6 534.5 64.4 534.8 66.0 535.0 65.1 535.2 65.7 535.5 64.1 535.8 65.2 536.0 64.1 536.2 65.4 536.5 63.7 536.8 64.5 537.0 62.7 537.2 64.0 537.5 63.1 537.8 63.8 538.0 63.0 538.2 63.7 538.5 63.0 538.8 63.9 539.0 63.1 539.2 64.5 539.5 63.0 539.8 64.0 540.0 63.1 540.2 63.9 540.5 63.2 540.8 63.9 541.0 62.6 541.2 63.4 541.5 61.9 541.8 63.1 542.0 61.9 542.2 62.8 542.5 61.8 542.8 62.3 543.0 61.5 543.2 62.1 543.5 61.3 543.8 62.1 544.0 61.5 544.2 62.7 544.5 62.1 544.8 63.1 545.0 62.2 545.2 63.1 545.5 62.2 545.8 63.5 546.0 63.1 546.2 63.9 546.5 63.3 546.8 64.1 547.0 63.2 547.2 64.4 547.5 63.2 547.8 64.5 548.0 63.0 548.2 64.6 548.5 63.1 548.8 63.6 549.0 62.3 549.2 63.8 549.5 62.1 549.8 63.5 550.0 62.3 550.2 63.7 550.5 62.8 550.8 63.8 551.0 63.2 551.2 64.4 551.5 63.4 551.8 64.4 552.0 64.0 552.2 64.6 552.5 64.0 552.8 65.0 553.0 63.9 553.2 64.7 553.5 63.4 553.8 64.3 554.0 63.2 554.2 65.5 554.5 62.1 554.8 65.2 555.0 61.6 555.2 68.0 555.5 96.0 555.8 57.0 556.0 60.8 556.2 68.4 556.5 61.3 556.8 71.1 557.0 59.5 557.2 68.1 557.5 61.3 557.8 62.4 558.0 61.8 558.2 64.9 558.5 61.1 558.8 73.6 559.0 61.2 559.2 65.2 559.5 60.1 559.8 75.7 560.0 60.9 560.2 67.5 560.5 60.1 560.8 75.6 561.0 61.0 561.2 69.6 561.5 61.3 561.8 68.6 562.0 60.5 562.2 72.9 562.5 60.4 562.8 63.3 563.0 60.4 563.2 70.8 563.5 61.2 563.8 69.7 564.0 60.4 564.2 75.5 564.5 60.3 564.8 67.5 565.0 61.6 565.2 81.3 565.5 61.4 565.8 71.9 566.0 61.2 566.2 76.3 566.5 60.1 566.8 63.5 567.0 61.3 567.2 70.5 567.5 60.6 567.8 81.1 568.0 61.7 568.2 74.8 568.5 61.5 568.8 71.2 569.0 62.0 569.2 74.2 569.5 61.0 569.8 66.1 570.0 60.1 570.2 64.0 570.5 61.2 570.8 69.7 571.0 61.4 571.2 68.3 571.5 60.4 571.8 66.0 572.0 60.9 572.2 66.2 572.5 60.8 572.8 66.8 573.0 59.8 573.2 80.5 573.5 61.5 573.8 73.1 574.0 59.6 574.2 74.3 574.5 60.7 574.8 65.0 575.0 61.1 575.2 77.4 575.5 61.9 575.8 67.9 576.0 61.0 576.2 72.1 576.5 61.4 576.8 79.5 577.0 60.6 577.2 73.0 577.5 61.6 577.8 77.5 578.0 62.5 578.2 63.9 578.5 60.7 578.8 69.5 579.0 60.7 579.2 67.0 579.5 61.1 579.8 67.0 580.0 60.4 580.2 66.4 580.5 60.9 580.8 75.7 581.0 60.5 581.2 70.8 581.5 61.1 581.8 70.5 582.0 62.0 582.2 64.8 582.5 61.4 582.8 63.4 583.0 61.6 583.2 69.3 583.5 60.5 583.8 76.8 584.0 62.3 584.2 69.9 584.5 60.9 584.8 73.5 585.0 61.9 585.2 77.5 585.5 59.6 585.8 67.8 586.0 61.7 586.2 82.2 586.5 60.0 586.8 66.4 587.0 61.6 587.2 77.5 587.5 61.1 587.8 66.0 588.0 61.1 588.2 75.5 588.5 60.6 588.8 73.5 589.0 60.5 589.2 75.5 589.5 61.2 589.8 72.9 590.0 61.6 590.2 70.8 590.5 60.6 590.8 78.1 591.0 61.5 591.2 71.1 591.5 61.3 591.8 64.1 592.0 60.2 592.2 64.5 592.5 60.4 592.8 70.8 593.0 61.1 593.2 63.5 593.5 61.8 593.8 65.9 594.0 61.0 594.2 64.0 594.5 61.4 594.8 65.1 595.0 62.1 595.2 64.4 595.5 62.1 595.8 74.7 596.0 62.1 596.2 64.4 596.5 59.9 596.8 72.8 597.0 60.0 597.2 63.9 597.5 62.2 597.8 64.7 598.0 62.2 598.2 68.1 598.5 62.1 598.8 70.8 599.0 59.6 599.2 65.0 599.5 61.9 599.8 68.6 600.0 60.5 600.2 68.7 600.5 61.5 600.8 70.6 601.0 59.4 601.2 72.9 601.5 60.4 601.8 69.6 602.0 62.0 602.2 73.0 602.5 61.7 602.8 70.6 603.0 61.2 603.2 68.5 603.5 62.1 603.8 63.0 604.0 60.5 604.2 63.0 604.5 62.2 604.8 67.5 605.0 60.5 605.2 68.2 605.5 59.6 605.8 69.6 606.0 60.7 606.2 70.4 606.5 60.5 606.8 71.6 607.0 61.7 607.2 73.9 607.5 61.5 607.8 71.8 608.0 61.4 608.2 67.2 608.5 62.7 608.8 69.9 609.0 62.7 609.2 69.2 609.5 60.6 609.8 69.3 610.0 60.7 610.2 73.2 610.5 61.3 610.8 68.0 611.0 60.3 611.2 69.2 611.5 60.9 611.8 69.3 612.0 61.7 612.2 72.7 612.5 61.4 612.8 63.8 613.0 61.7 613.2 62.8 613.5 61.6 613.8 66.2 614.0 61.9 614.2 66.5 614.5 60.8 614.8 66.9 615.0 61.7 615.2 66.2 615.5 62.0 615.8 69.5 616.0 62.1 616.2 70.1 616.5 61.7 616.8 67.7 617.0 62.9 617.2 67.0 617.5 60.9 617.8 69.8 618.0 62.8 618.2 65.0 618.5 62.6 618.8 69.0 619.0 61.5 619.2 68.2 619.5 61.7 619.8 65.4 620.0 61.7 620.2 64.3 620.5 62.6 620.8 68.9 621.0 62.2 621.2 70.0 621.5 62.0 621.8 65.1 622.0 62.6 622.2 69.2 622.5 62.2 622.8 68.1 623.0 63.0 623.2 68.6 623.5 62.2 623.8 64.4 624.0 61.4 624.2 68.2 624.5 62.2 624.8 68.5 625.0 61.9 625.2 66.2 625.5 62.0 625.8 67.6 626.0 63.1 626.2 64.5 626.5 63.7 626.8 66.8 627.0 63.0 627.2 65.1 627.5 63.9 627.8 68.7 628.0 63.2 628.2 66.1 628.5 63.1 628.8 66.7 629.0 63.9 629.2 66.0 629.5 63.8 629.8 67.2 630.0 62.5 630.2 66.6 630.5 63.2 630.8 66.2 631.0 63.3 631.2 65.5 631.5 63.5 631.8 64.5 632.0 63.1 632.2 64.1 632.5 63.1 632.8 66.8 633.0 63.2 633.2 66.5 633.5 63.2 633.8 65.8 634.0 63.7 634.2 65.5 634.5 62.8 634.8 65.9 635.0 63.7 635.2 65.9 635.5 64.2 635.8 64.9 636.0 63.9 636.2 65.6 636.5 64.0 636.8 67.7 637.0 64.0 637.2 64.9 637.5 63.7 637.8 66.3 638.0 63.8 638.2 66.4 638.5 64.4 638.8 68.3 639.0 64.5 639.2 68.4 639.5 64.7 639.8 66.7 640.0 65.0 640.2 67.1 640.5 65.3 640.8 66.0 641.0 65.4 641.2 66.5 641.5 65.0 641.8 66.0 642.0 65.0 642.2 65.9 642.5 64.2 642.8 65.3 643.0 64.5 643.2 65.8 643.5 64.1 643.8 65.5 644.0 64.0 644.2 65.5 644.5 64.1 644.8 65.1 645.0 64.3 645.2 65.0 645.5 64.3 645.8 65.7 646.0 64.2 646.2 65.3 646.5 64.1 646.8 65.5 647.0 64.7 647.2 65.8 647.5 64.5 647.8 65.1 648.0 64.5 648.2 65.2 648.5 64.5 648.8 65.5 649.0 63.8 649.2 65.4 649.5 63.9 649.8 65.1 650.0 64.4 650.2 65.5 650.5 64.5 650.8 65.2 651.0 64.6 651.2 65.8 651.5 64.8 651.8 65.6 652.0 64.9 652.2 66.1 652.5 64.9 652.8 66.1 653.0 65.1 653.2 66.1 653.5 65.2 653.8 66.3 654.0 65.1 654.2 65.7 654.5 65.1 654.8 66.0 655.0 64.6 655.2 65.6 655.5 64.7 655.8 65.8 656.0 64.1 656.2 66.1 656.5 64.5 656.8 65.8 657.0 64.6 657.2 65.8 657.5 64.8 657.8 66.0 658.0 65.2 658.2 66.6 658.5 64.7 658.8 66.2 659.0 65.0 659.2 66.6 659.5 64.8 659.8 65.8 660.0 65.3 660.2 65.8 660.5 64.8 660.8 65.9 661.0 64.3 661.2 65.6 661.5 64.3 661.8 65.2 662.0 64.0 662.2 65.1 662.5 64.0 662.8 65.7 663.0 64.1 663.2 65.4 663.5 64.1 663.8 65.4 664.0 64.6 664.2 65.7 664.5 64.6 664.8 65.5 665.0 64.8 665.2 66.1 665.5 65.1 665.8 66.1 666.0 64.8 666.2 66.0 666.5 64.9 666.8 66.2 667.0 65.3 667.2 65.9 667.5 65.1 667.8 66.2 668.0 64.6 668.2 65.9 668.5 65.1 668.8 66.1 669.0 65.1 669.2 66.5 669.5 65.3 669.8 66.4 670.0 65.7 670.2 66.8 670.5 65.9 670.8 67.1 671.0 66.0" fill="none" stroke="#0072BD" stroke-width="1.2" stroke-linejoin="round"/>
<path clip-path="url(#c1)" d="M60.5 196.0L60.8 190.9 61.2 200.2 61.5 188.9 61.8 197.9 62.2 191.4 62.5 192.5 62.8 195.7 63.2 192.9 63.5 192.5 63.8 200.3 64.2 192.0 64.5 196.7 64.8 198.6 65.2 193.1 65.5 197.9 65.8 189.9 66.2 196.2 66.5 194.8 66.8 193.2 67.2 199.5 67.5 194.3 67.8 202.3 68.2 196.5 68.5 201.0 68.8 197.0 69.2 202.9 69.5 198.5 69.8 204.4 70.2 199.2 70.5 205.1 70.8 200.7 71.2 205.9 71.5 202.4 71.8 208.3 72.2 205.9 72.5 204.0 72.8 204.9 73.2 201.9 73.5 200.9 73.8 207.1 74.2 208.0 74.5 202.1 74.8 206.7 75.2 207.3 75.5 205.9 75.8 204.8 76.2 202.0 76.5 206.7 76.8 202.0 77.2 205.1 77.5 203.5 77.8 202.7 78.2 205.6 78.5 198.4 78.8 204.8 79.2 199.6 79.5 205.3 79.8 205.1 80.2 206.2 80.5 206.0 80.8 199.4 81.2 208.0 81.5 200.6 81.8 201.0 82.2 202.8 82.5 206.1 82.8 205.6 83.2 203.1 83.5 204.5 83.8 200.1 84.2 205.2 84.5 202.6 84.8 198.5 85.2 207.0 85.5 199.1 85.8 204.7 86.2 197.7 86.5 204.4 86.8 199.8 87.2 200.3 87.5 202.2 87.8 200.5 88.2 200.8 88.5 200.6 88.8 202.6 89.2 202.1 89.5 204.2 89.8 201.8 90.2 202.4 90.5 201.8 90.8 205.4 91.2 201.5 91.5 207.4 91.8 199.9 92.2 205.5 92.5 202.4 92.8 206.7 93.2 203.6 93.5 208.6 93.8 201.7 94.2 205.3 94.5 199.9 94.8 199.6 95.2 204.4 95.5 201.1 95.8 204.1 96.2 204.7 96.5 200.0 96.8 201.4 97.2 202.2 97.5 201.4 97.8 198.1 98.2 202.3 98.5 197.1 98.8 201.7 99.2 195.1 99.5 201.4 99.8 203.6 100.2 202.1 100.5 195.9 100.8 199.7 101.2 202.8 101.5 204.0 101.8 197.6 102.2 200.8 102.5 197.8 102.8 198.3 103.2 200.0 103.5 195.5 103.8 196.1 104.2 200.9 104.5 193.9 104.8 203.3 105.2 199.8 105.5 195.2 105.8 198.4 106.2 200.5 106.5 194.7 106.8 198.7 107.2 199.8 107.5 199.1 107.8 195.4 108.2 198.4 108.5 196.3 108.8 196.1 109.2 196.2 109.5 200.8 109.8 195.8 110.2 199.7 110.5 199.5 110.8 197.1 111.2 196.6 111.5 195.6 111.8 200.7 112.2 195.7 112.5 200.8 112.8 194.5 113.2 198.5 113.5 200.5 113.8 193.2 114.2 198.7 114.5 193.1 114.8 200.5 115.0 190.0 115.5 198.0 115.8 193.7 116.2 198.3 116.5 193.0 116.8 198.2 117.2 195.0 117.5 197.0 117.8 195.9 118.2 201.5 118.5 194.2 118.8 197.6 119.2 195.2 119.5 201.2 119.8 201.1 120.2 197.3 120.5 201.0 120.8 197.6 121.2 198.3 121.5 201.3 121.8 198.5 122.2 201.2 122.5 197.6 122.8 200.6 123.2 201.5 123.5 199.9 123.8 197.1 124.2 200.4 124.5 198.2 124.8 201.2 125.2 198.6 125.5 197.0 125.8 197.6 126.2 201.2 126.5 197.2 126.8 201.8 127.2 198.4 127.5 205.2 127.8 202.5 128.2 201.4 128.5 204.6 128.8 199.1 129.2 203.0 129.5 202.9 129.8 200.4 130.2 204.0 130.5 198.7 130.8 204.2 131.2 197.9 131.5 203.6 131.8 197.7 132.2 200.9 132.5 193.5 132.8 198.3 133.2 196.4 133.5 198.1 133.8 195.5 134.2 196.4 134.5 194.8 134.8 197.0 135.2 192.8 135.5 193.4 135.8 192.6 136.2 196.3 136.5 192.6 136.8 199.5 137.2 196.8 137.5 193.6 137.8 195.1 138.2 199.5 138.5 194.9 138.8 198.2 139.2 193.8 139.5 198.8 139.8 197.2 140.2 199.6 140.5 202.3 140.8 196.5 141.2 199.3 141.5 196.2 141.8 198.7 142.2 194.7 142.5 197.1 142.8 197.5 143.2 197.1 143.5 194.4 143.8 192.4 144.2 195.3 144.5 192.7 144.8 193.3 145.2 195.9 145.5 191.8 145.8 195.4 146.2 194.2 146.5 193.4 146.8 192.0 147.2 196.0 147.5 196.4 147.8 195.5 148.2 190.9 148.5 194.9 148.8 191.4 149.2 196.2 149.5 197.0 149.8 194.4 150.2 198.3 150.5 194.3 150.8 192.8 151.2 195.0 151.5 200.4 151.8 193.7 152.2 197.5 152.5 193.4 152.8 196.4 153.2 194.7 153.5 192.6 153.8 196.0 154.2 194.0 154.5 191.3 154.8 194.0 155.2 193.6 155.5 193.3 155.8 190.0 156.2 194.9 156.5 191.2 156.8 194.4 157.2 190.7 157.5 195.4 157.8 196.4 158.2 191.1 158.5 199.1 158.8 192.4 159.2 193.0 159.5 198.6 159.8 193.8 160.2 198.2 160.5 198.1 160.8 198.5 161.2 198.3 161.5 193.7 161.8 199.1 162.2 195.9 162.5 199.3 162.8 193.8 163.2 201.2 163.5 197.9 163.8 194.8 164.2 197.3 164.5 196.4 164.8 191.4 165.2 198.3 165.5 191.9 165.8 199.3 166.2 192.5 166.5 197.2 166.8 195.8 167.2 192.1 167.5 196.0 167.8 191.6 168.2 195.6 168.5 194.7 168.8 191.7 169.2 194.6 169.5 196.7 169.8 189.2 170.2 196.6 170.5 193.7 170.8 198.3 171.2 196.6 171.5 193.8 171.8 192.6 172.2 195.7 172.5 196.5 172.8 194.0 173.2 193.7 173.5 196.9 173.8 192.5 174.2 199.3 174.5 199.4 174.8 195.6 175.2 196.8 175.5 202.5 175.8 198.3 176.2 204.4 176.5 208.4 176.8 197.0 177.2 211.4 177.5 197.7 177.8 202.0 178.2 214.2 178.5 201.4 178.8 214.9 179.2 199.9 179.5 210.1 179.8 194.1 180.2 199.4 180.5 218.6 180.8 203.6 181.2 199.6 181.5 213.7 181.8 213.0 182.0 223.0 182.5 210.4 182.8 214.3 183.2 201.0 183.5 212.9 183.8 207.6 184.2 210.7 184.5 208.4 184.8 202.3 185.2 218.8 185.3 221.0 185.8 205.3 186.2 212.9 186.5 206.0 186.8 217.8 187.2 204.4 187.5 213.5 187.8 203.1 188.2 214.3 188.5 205.8 188.8 213.2 189.2 202.7 189.5 212.4 189.8 203.5 190.2 219.7 190.5 213.5 190.8 206.4 191.2 211.8 191.5 217.3 191.8 211.5 192.2 204.8 192.5 215.8 192.8 204.0 193.2 212.7 193.5 199.0 193.8 208.6 194.2 203.3 194.5 214.5 194.8 205.3 195.2 219.1 195.5 212.1 195.8 207.3 196.2 213.9 196.5 212.4 196.8 213.8 197.2 208.5 197.5 204.0 197.8 214.2 198.2 199.1 198.5 210.6 198.8 202.7 199.2 210.5 199.5 204.4 199.8 206.5 200.2 200.9 200.5 208.8 200.8 194.6 201.2 205.4 201.5 193.8 201.8 208.0 202.2 197.7 202.5 207.2 202.8 199.3 203.2 208.4 203.5 210.1 203.8 203.4 204.2 202.3 204.5 200.7 204.8 202.8 205.2 207.5 205.5 200.1 205.8 206.8 206.2 201.1 206.5 211.1 206.8 205.6 207.2 209.1 207.5 202.4 207.8 210.5 208.2 204.3 208.5 210.5 208.8 203.6 209.2 213.2 209.5 208.5 209.8 201.7 210.2 200.6 210.5 207.9 210.8 203.2 211.2 206.8 211.5 201.2 211.8 206.7 212.2 202.4 212.5 206.1 212.8 198.9 213.2 203.0 213.5 202.3 213.8 206.5 214.2 198.8 214.5 204.0 214.8 198.9 215.2 205.2 215.5 200.5 215.8 208.0 216.2 205.0 216.5 209.0 216.8 200.4 217.2 206.8 217.5 205.7 217.8 197.0 218.2 209.0 218.5 200.3 218.8 204.7 219.2 201.9 219.5 204.7 219.8 202.4 220.2 204.6 220.5 200.7 220.8 204.7 221.2 196.3 221.5 198.6 221.8 201.6 222.2 206.7 222.5 205.5 222.8 199.7 223.2 204.0 223.5 198.1 223.8 201.0 224.2 203.8 224.5 199.5 224.8 200.9 225.2 205.7 225.5 200.2 225.8 203.3 226.2 203.7 226.5 197.8 226.8 204.7 227.2 199.5 227.5 203.3 227.8 201.6 228.2 201.2 228.5 204.5 228.8 203.9 229.2 200.0 229.5 202.5 229.8 198.6 230.2 203.4 230.5 204.3 230.8 201.0 231.2 199.3 231.5 202.9 231.8 198.4 232.2 203.9 232.5 199.4 232.8 202.5 233.2 204.2 233.5 204.8 233.8 199.2 234.2 205.3 234.5 199.8 234.8 203.5 235.2 200.9 235.5 199.2 235.8 199.1 236.2 199.4 236.5 204.3 236.8 197.9 237.2 204.0 237.5 198.4 237.8 201.9 238.2 198.2 238.5 202.6 238.8 199.0 239.2 203.3 239.5 202.5 239.8 198.9 240.2 205.0 240.5 199.8 240.8 203.0 241.2 199.2 241.5 203.2 241.8 202.6 242.2 200.6 242.5 202.4 242.8 205.7 243.2 199.4 243.5 200.8 243.8 203.4 244.2 205.9 244.5 201.1 244.8 203.7 245.2 200.3 245.5 205.6 245.8 198.4 246.2 203.9 246.5 200.5 246.8 203.2 247.2 199.4 247.5 204.5 247.8 204.0 248.2 203.8 248.5 198.2 248.8 202.3 249.2 197.6 249.5 196.7 249.8 202.8 250.2 197.0 250.5 200.2 250.8 199.7 251.2 196.1 251.5 201.7 251.8 198.3 252.2 201.1 252.5 200.0 252.8 198.2 253.2 196.5 253.5 197.3 253.8 197.2 254.2 201.1 254.5 195.4 254.8 202.3 255.2 198.7 255.5 202.0 255.8 199.0 256.2 202.2 256.5 199.1 256.8 198.3 257.2 202.5 257.5 201.9 257.8 197.4 258.2 198.7 258.5 196.6 258.8 201.2 259.2 202.1 259.5 195.9 259.8 195.8 260.2 200.5 260.5 196.0 260.8 199.0 261.2 198.0 261.5 200.8 261.8 200.5 262.2 195.3 262.5 199.5 262.8 199.9 263.2 195.5 263.5 200.1 263.8 195.2 264.2 199.3 264.5 200.3 264.8 192.5 265.2 194.6 265.5 198.8 265.8 194.2 266.2 198.2 266.5 194.6 266.8 199.5 267.2 194.1 267.5 194.1 267.8 199.5 268.2 194.1 268.5 197.7 268.8 193.5 269.2 197.7 269.5 200.1 269.8 194.8 270.2 198.8 270.5 193.7 270.8 195.1 271.2 194.7 271.5 198.3 271.8 191.9 272.2 193.4 272.5 194.3 272.8 198.5 273.0 186.0 273.5 196.9 273.8 193.1 274.2 198.5 274.5 194.9 274.8 197.6 275.2 193.5 275.5 196.7 275.8 193.7 276.2 196.4 276.5 197.3 276.8 193.5 277.2 199.1 277.5 194.3 277.8 194.7 278.2 197.9 278.5 194.0 278.8 194.7 279.2 194.6 279.5 199.0 279.8 196.1 280.2 197.8 280.5 194.8 280.8 201.2 281.2 194.1 281.5 200.5 281.8 195.2 282.2 203.0 282.5 196.4 282.8 195.0 283.2 198.0 283.5 198.2 283.8 194.5 284.2 198.8 284.5 195.1 284.8 196.8 285.2 192.6 285.5 198.3 285.8 191.8 286.2 196.4 286.5 196.1 286.8 191.9 287.2 194.0 287.5 191.3 287.8 192.4 288.2 194.0 288.5 188.9 288.8 191.0 289.2 195.8 289.5 194.1 289.8 197.8 290.2 195.3 290.5 198.1 290.8 199.8 291.2 203.2 291.5 201.0 291.8 205.0 292.2 208.1 292.5 202.2 292.8 202.1 293.2 207.2 293.5 207.6 293.8 206.0 294.2 206.3 294.5 208.8 294.8 206.6 295.2 209.6 295.5 204.6 295.8 206.1 296.2 203.0 296.5 206.6 296.8 200.1 297.2 203.6 297.5 202.4 297.8 199.8 298.2 201.4 298.5 199.2 298.8 203.0 299.2 195.3 299.5 198.2 299.8 201.9 300.2 197.9 300.5 203.0 300.8 203.4 301.2 199.1 301.5 204.0 301.8 201.5 302.2 200.2 302.5 204.9 302.8 201.9 303.2 203.7 303.5 200.4 303.8 203.9 304.2 199.5 304.5 203.0 304.8 196.5 305.2 198.7 305.5 201.0 305.8 198.7 306.2 200.9 306.5 197.7 306.8 198.0 307.2 199.4 307.5 200.0 307.8 196.8 308.2 202.2 308.5 194.7 308.8 199.7 309.2 199.2 309.5 195.9 309.8 199.3 310.2 195.1 310.5 201.7 310.8 197.1 311.2 202.4 311.5 199.4 311.8 202.7 312.2 198.7 312.5 203.6 312.8 200.3 313.2 202.8 313.5 201.2 313.8 200.3 314.2 203.5 314.5 204.1 314.8 197.2 315.0 209.0 315.5 201.1 315.8 198.8 316.2 202.9 316.5 201.8 316.8 202.8 317.2 199.2 317.5 195.6 317.8 199.5 318.2 196.8 318.5 194.8 318.8 192.2 319.2 199.3 319.5 193.4 319.8 194.5 320.2 198.3 320.5 194.5 320.8 194.2 321.2 198.0 321.5 201.4 321.8 194.9 322.2 200.2 322.5 196.7 322.8 200.7 323.2 196.2 323.5 199.5 323.8 197.1 324.2 201.5 324.5 198.3 324.8 201.0 325.2 198.4 325.5 200.4 325.8 196.7 326.2 197.7 326.5 201.7 326.8 196.7 327.2 204.1 327.5 199.8 327.8 200.6 328.2 196.1 328.5 200.9 328.8 198.2 329.2 200.4 329.5 196.6 329.8 200.1 330.2 196.5 330.5 200.5 330.8 194.6 331.2 201.4 331.5 194.4 331.8 199.9 332.2 199.4 332.5 196.5 332.8 196.6 333.2 195.5 333.5 194.3 333.8 197.4 334.2 195.3 334.5 198.8 334.8 194.3 335.2 197.0 335.5 194.2 335.8 193.2 336.2 198.7 336.5 193.6 336.8 197.3 337.2 194.4 337.5 198.4 337.8 195.7 338.2 195.5 338.5 193.9 338.8 200.0 339.2 198.8 339.5 192.6 339.8 201.0 340.2 195.3 340.5 199.3 340.8 196.8 341.2 199.6 341.5 194.5 341.8 197.3 342.2 198.0 342.5 191.1 342.8 199.9 343.2 193.9 343.5 196.4 343.8 199.5 344.2 192.7 344.5 191.9 344.8 193.5 345.2 197.9 345.5 194.3 345.8 192.8 346.2 198.2 346.5 193.9 346.8 200.2 347.2 198.7 347.5 195.0 347.8 198.4 348.2 195.8 348.5 199.7 348.8 196.4 349.2 200.9 349.5 198.9 349.8 194.1 350.2 197.6 350.5 194.7 350.8 197.4 351.2 198.9 351.5 194.9 351.8 198.0 352.2 192.5 352.5 193.3 352.8 195.5 353.2 192.2 353.5 194.9 353.8 190.2 354.2 188.9 354.5 195.4 354.8 189.6 355.2 196.3 355.5 191.8 355.8 195.0 356.2 194.5 356.5 192.1 356.8 196.5 357.2 192.0 357.5 193.2 357.8 196.8 358.2 193.2 358.5 198.6 358.8 197.4 359.2 194.2 359.5 197.0 359.8 200.5 360.2 193.5 360.5 196.2 360.8 193.7 361.2 198.9 361.5 192.2 361.8 198.0 362.2 194.0 362.5 197.7 362.8 195.8 363.2 196.7 363.5 196.2 363.8 191.2 364.2 190.1 364.5 189.9 364.8 194.4 365.2 190.8 365.5 189.7 365.8 190.7 366.2 195.2 366.5 191.5 366.8 193.8 367.2 194.3 367.5 191.6 367.8 191.3 368.2 194.2 368.5 194.0 368.8 191.7 369.2 194.2 369.5 191.9 369.8 196.7 370.2 196.0 370.5 191.4 370.8 190.8 371.2 189.5 371.5 190.8 371.8 193.5 372.2 190.1 372.5 194.6 372.8 193.1 373.2 189.3 373.5 186.8 373.8 193.5 374.2 189.4 374.5 189.9 374.8 192.7 375.2 190.8 375.5 191.7 375.8 195.0 376.2 190.2 376.5 195.5 376.8 191.5 377.2 195.0 377.5 191.1 377.8 193.9 378.2 191.2 378.5 195.3 378.8 188.4 379.2 194.4 379.5 193.9 379.8 193.1 380.2 196.5 380.5 192.9 380.8 195.2 381.2 188.3 381.5 193.7 381.8 189.2 382.2 188.6 382.5 189.1 382.8 192.8 383.2 188.4 383.5 193.1 383.8 187.1 384.2 189.4 384.5 189.9 384.8 188.0 385.2 190.1 385.5 187.2 385.8 193.6 386.2 192.6 386.5 189.4 386.8 191.9 387.2 191.8 387.5 193.1 387.8 190.4 388.2 190.1 388.5 194.8 388.8 188.3 389.2 193.0 389.5 193.5 389.8 192.9 390.2 188.3 390.5 191.1 390.8 186.1 391.2 191.6 391.5 186.9 391.8 192.7 392.2 186.4 392.5 190.9 392.8 192.6 393.0 186.0 393.5 185.6 393.8 190.6 394.2 188.7 394.5 192.8 394.8 188.3 395.2 191.2 395.5 187.8 395.8 186.2 396.2 189.8 396.5 189.9 396.8 191.0 397.2 197.0 397.5 194.0 397.8 199.9 398.2 195.6 398.5 196.2 398.8 195.8 399.2 201.8 399.5 207.3 399.8 206.9 400.2 202.2 400.5 207.3 400.8 200.0 401.2 204.0 401.5 199.7 401.8 205.3 402.2 199.1 402.5 194.8 402.8 201.7 403.2 198.5 403.5 205.1 403.8 198.8 404.0 222.0 404.5 206.0 404.8 198.4 405.2 207.5 405.5 198.7 405.8 208.4 406.2 201.0 406.3 220.0 406.8 200.3 407.2 206.0 407.5 203.3 407.8 210.7 408.2 208.8 408.5 198.1 408.8 210.5 409.2 206.8 409.5 206.2 409.8 208.2 410.2 203.4 410.5 207.9 410.8 211.9 411.2 210.2 411.5 203.9 411.8 207.7 412.2 203.3 412.5 203.7 412.8 210.2 413.2 208.5 413.5 204.6 413.8 210.0 414.2 199.3 414.5 199.2 414.8 202.4 415.2 208.1 415.5 192.2 415.8 214.0 416.2 197.6 416.5 207.7 416.8 200.1 417.2 204.9 417.5 211.0 417.8 205.3 418.2 211.2 418.5 202.4 418.8 207.6 419.2 203.2 419.5 211.5 419.8 193.2 420.0 225.0 420.5 200.2 420.8 208.1 421.2 201.5 421.5 209.0 421.8 199.8 422.2 206.9 422.3 222.0 422.8 200.7 423.2 206.3 423.5 206.9 423.8 200.2 424.2 208.6 424.5 210.6 424.8 209.4 425.2 202.7 425.5 209.4 425.8 206.9 426.2 199.7 426.5 208.5 426.8 200.5 427.2 207.9 427.5 200.3 427.8 206.5 428.2 200.5 428.5 205.4 428.8 194.0 429.2 211.9 429.5 199.9 429.8 206.1 430.2 214.3 430.5 201.4 430.8 202.0 431.2 206.8 431.5 202.1 431.8 207.0 432.2 208.7 432.5 197.4 432.8 205.7 433.2 200.9 433.5 207.2 433.8 208.3 434.2 202.3 434.5 207.1 434.8 197.6 435.2 201.9 435.5 203.9 435.8 206.3 436.2 197.0 436.5 207.9 436.8 199.3 437.2 199.6 437.5 203.3 437.8 199.4 438.2 196.5 438.5 204.3 438.8 197.3 439.2 203.4 439.5 198.9 439.8 197.9 440.2 199.2 440.5 201.9 440.8 198.6 441.2 204.0 441.5 202.7 441.8 197.4 442.2 205.3 442.5 205.1 442.8 206.6 443.2 202.0 443.5 207.6 443.8 201.2 444.2 206.5 444.5 208.0 444.8 208.3 445.2 202.5 445.5 202.1 445.8 201.3 446.2 200.5 446.5 206.4 446.8 199.6 447.2 207.0 447.5 201.6 447.8 200.3 448.2 202.2 448.5 199.4 448.8 201.8 449.2 200.0 449.5 197.5 449.8 197.3 450.2 201.7 450.5 196.8 450.8 199.5 451.2 201.7 451.5 196.3 451.8 202.3 452.2 200.1 452.5 203.5 452.8 200.1 453.2 204.4 453.5 204.8 453.8 200.1 454.2 203.4 454.5 201.6 454.8 202.6 455.2 206.0 455.5 202.9 455.8 205.1 456.2 205.6 456.5 205.5 456.8 204.2 457.2 202.6 457.5 198.8 457.8 202.5 458.2 198.8 458.5 200.2 458.8 201.2 459.2 204.1 459.5 194.8 459.8 203.8 460.2 194.2 460.5 199.6 460.8 203.0 461.2 202.0 461.5 198.6 461.8 201.8 462.2 198.4 462.5 202.8 462.8 200.0 463.2 200.6 463.5 203.5 463.8 203.1 464.2 199.7 464.5 199.5 464.8 201.9 465.2 203.9 465.5 201.8 465.8 201.0 466.2 203.4 466.5 199.9 466.8 206.5 467.2 199.3 467.5 205.4 467.8 202.8 468.2 198.7 468.5 200.2 468.8 196.5 469.2 199.8 469.5 197.4 469.8 199.7 470.2 194.5 470.5 201.3 470.8 197.5 471.2 194.5 471.5 197.3 471.8 196.6 472.2 199.3 472.5 195.9 472.8 202.0 473.2 199.4 473.5 197.7 473.8 200.3 474.2 196.6 474.5 197.3 474.8 199.9 475.2 195.3 475.5 204.0 475.8 197.0 476.2 201.9 476.5 200.8 476.8 196.1 477.2 200.2 477.5 202.5 477.8 202.5 478.2 201.3 478.5 196.6 478.8 199.6 479.2 194.0 479.5 200.5 479.8 200.4 480.2 195.8 480.5 197.2 480.8 200.8 481.2 196.4 481.5 200.7 481.8 200.1 482.2 196.6 482.5 199.0 482.8 195.1 483.2 194.3 483.5 202.2 483.8 193.0 484.2 199.5 484.5 199.0 484.8 197.6 485.2 192.6 485.5 200.0 485.8 199.0 486.2 194.9 486.5 200.4 486.8 193.0 487.2 200.0 487.5 199.1 487.8 193.6 488.2 198.8 488.5 193.3 488.8 198.0 489.2 195.6 489.5 199.5 489.8 193.2 490.2 197.5 490.5 201.4 490.8 194.5 491.2 199.2 491.5 194.4 491.8 198.2 492.2 195.2 492.5 197.7 492.8 197.8 493.2 198.4 493.5 194.7 493.8 200.8 494.2 194.2 494.5 199.0 494.8 200.9 495.2 193.8 495.5 194.5 495.8 196.5 496.2 193.8 496.5 197.3 496.8 194.6 497.2 195.8 497.5 191.9 497.8 197.3 498.2 193.1 498.5 194.8 498.8 193.3 499.2 196.5 499.5 189.8 499.8 194.4 500.0 190.0 500.5 197.9 500.8 192.3 501.2 197.5 501.5 198.2 501.8 198.1 502.2 195.8 502.5 197.3 502.8 193.3 503.2 196.8 503.5 191.9 503.8 194.0 504.2 193.3 504.5 194.5 504.8 197.9 505.2 192.5 505.5 192.9 505.8 195.6 506.2 190.8 506.5 195.8 506.8 192.2 507.2 192.7 507.5 197.9 507.8 190.3 508.2 195.8 508.5 194.6 508.8 196.3 509.2 193.6 509.5 199.2 509.8 195.1 510.2 199.8 510.5 196.5 510.8 199.5 511.2 193.8 511.5 200.3 511.8 198.5 512.2 199.8 512.5 199.7 512.8 196.9 513.2 201.1 513.5 196.1 513.8 201.4 514.2 200.0 514.5 198.2 514.8 201.0 515.2 201.8 515.5 197.3 515.8 199.8 516.2 194.5 516.5 200.2 516.8 192.9 517.2 198.8 517.5 199.6 517.8 194.4 518.2 196.4 518.5 198.1 518.8 195.3 519.2 198.2 519.5 193.7 519.8 199.8 520.2 194.0 520.5 200.1 520.8 194.4 521.2 199.5 521.5 194.9 521.8 200.3 522.2 195.5 522.5 197.4 522.8 195.7 523.2 200.4 523.5 195.7 523.8 197.5 524.2 200.7 524.5 201.0 524.8 195.1 525.2 201.7 525.5 197.8 525.8 204.7 526.2 202.2 526.5 196.2 526.8 203.1 527.2 197.9 527.5 196.4 527.8 201.4 528.2 202.5 528.5 197.1 528.8 202.7 529.2 200.6 529.5 199.1 529.8 203.2 530.2 197.9 530.5 203.4 530.8 197.7 531.2 206.0 531.5 196.7 531.8 196.8 532.2 198.5 532.5 196.7 532.8 196.2 533.2 198.6 533.5 201.1 533.8 196.7 534.2 196.5 534.5 201.8 534.8 198.5 535.2 199.0 535.5 195.5 535.8 199.8 536.2 196.4 536.5 199.5 536.8 195.4 537.2 196.8 537.5 199.7 537.8 196.2 538.2 202.0 538.5 198.6 538.8 200.8 539.2 200.1 539.5 197.5 539.8 201.5 540.2 199.6 540.5 203.1 540.8 200.3 541.2 203.3 541.5 198.0 541.8 202.8 542.2 201.6 542.5 198.3 542.8 204.3 543.2 195.7 543.5 203.8 543.8 195.3 544.2 202.9 544.5 195.1 544.8 196.5 545.2 198.9 545.5 197.8 545.8 194.4 546.2 198.5 546.5 196.6 546.8 199.5 547.2 196.4 547.5 201.3 547.8 199.4 548.2 198.6 548.5 198.3 548.8 196.8 549.2 202.8 549.5 205.0 549.8 195.2 550.2 200.3 550.5 196.8 550.8 201.3 551.2 198.9 551.5 197.9 551.8 196.3 552.2 193.8 552.5 192.8 552.8 194.9 553.2 198.8 553.5 193.9 553.8 192.8 554.2 197.3 554.5 196.8 554.8 197.8 555.2 192.8 555.5 196.3 555.8 195.9 556.2 191.2 556.5 195.3 556.8 194.4 557.2 189.7 557.5 195.9 557.8 193.0 558.2 196.5 558.5 191.9 558.8 196.5 559.2 198.5 559.5 195.6 559.8 198.8 560.2 197.6 560.5 197.2 560.8 202.6 561.2 194.3 561.5 201.1 561.8 199.7 562.2 199.1 562.5 200.7 562.8 193.6 563.2 202.1 563.5 195.4 563.8 196.7 564.2 192.9 564.5 195.9 564.8 196.4 565.2 192.3 565.5 191.5 565.8 196.0 566.2 191.2 566.5 193.6 566.8 195.2 567.2 191.7 567.5 192.0 567.8 198.0 568.2 192.6 568.5 195.3 568.8 192.8 569.2 198.0 569.5 191.3 569.8 197.1 570.2 196.0 570.5 196.2 570.8 191.6 571.2 199.5 571.5 194.9 571.8 198.4 572.2 194.2 572.5 200.1 572.8 197.0 573.2 193.6 573.5 194.8 573.8 194.0 574.2 194.9 574.5 197.0 574.8 191.9 575.2 195.6 575.5 193.6 575.8 195.3 576.2 194.5 576.5 192.6 576.8 195.8 577.2 198.6 577.5 195.8 577.8 192.1 578.2 196.0 578.5 192.4 578.8 192.8 579.2 195.0 579.5 192.0 579.8 199.5 580.2 192.4 580.5 191.8 580.8 193.7 581.2 192.1 581.5 193.5 581.8 192.8 582.2 198.3 582.5 195.2 582.8 197.9 583.2 196.1 583.5 195.9 583.8 192.4 584.2 189.9 584.5 196.2 584.8 193.4 585.2 194.1 585.5 191.9 585.8 194.3 586.2 190.5 586.5 193.4 586.8 193.6 587.2 190.0 587.5 193.8 587.8 190.4 588.2 192.2 588.5 194.7 588.8 188.1 589.2 194.9 589.5 195.4 589.8 190.0 590.2 194.0 590.5 194.3 590.8 189.8 591.2 193.9 591.5 190.2 591.8 193.3 592.2 195.4 592.5 187.9 592.8 193.8 593.2 189.4 593.5 192.0 593.8 194.0 594.2 191.9 594.5 195.8 594.8 192.1 595.2 195.8 595.5 195.3 595.8 192.0 596.2 196.1 596.5 194.5 596.8 191.9 597.2 194.5 597.5 191.9 597.8 195.7 598.2 190.6 598.5 195.9 598.8 194.2 599.2 190.3 599.5 191.2 599.8 193.4 600.2 187.5 600.5 192.3 600.8 191.9 601.2 187.3 601.5 191.9 601.8 187.1 602.2 188.0 602.5 188.3 602.8 186.9 603.2 191.2 603.5 189.7 603.8 191.4 604.2 193.0 604.5 189.5 604.8 189.1 605.2 194.1 605.5 189.7 605.8 197.1 606.2 195.7 606.5 192.5 606.8 195.2 607.2 190.2 607.5 195.3 607.8 192.1 608.2 195.3 608.5 193.2 608.8 195.4 609.2 193.0 609.5 193.4 609.8 191.2 610.2 193.6 610.5 196.6 610.8 193.3 611.2 192.6 611.5 195.4 611.8 188.3 612.2 192.9 612.5 188.7 612.8 191.1 613.2 187.8 613.5 190.3 613.8 191.4 614.2 187.3 614.5 191.8 614.8 191.3 615.2 193.9 615.5 190.5 615.8 194.5 616.2 191.4 616.5 195.4 616.8 190.2 617.2 193.9 617.5 198.8 617.8 193.8 618.2 191.1 618.5 197.1 618.8 197.7 619.2 198.0 619.5 193.2 619.8 200.6 620.2 192.1 620.5 200.1 620.8 189.3 621.2 191.8 621.5 192.3 621.8 196.5 622.2 195.0 622.5 197.2 622.8 192.7 623.2 201.7 623.5 196.5 623.8 196.4 624.2 201.0 624.5 192.5 624.8 206.3 625.2 197.0 625.5 227.0 625.8 207.8 626.2 200.7 626.5 203.7 626.8 201.8 627.2 202.0 627.5 212.9 627.8 209.4 628.2 199.5 628.5 203.0 628.8 219.7 629.2 199.9 629.5 215.0 629.8 204.0 630.2 207.3 630.5 203.3 630.8 198.5 631.2 202.0 631.5 213.7 631.8 202.0 632.2 215.5 632.5 201.8 632.8 207.6 633.2 206.2 633.5 211.2 633.8 195.4 634.2 212.4 634.5 203.2 634.8 211.2 635.2 206.3 635.5 213.7 635.8 203.2 636.2 216.4 636.5 198.3 636.8 214.2 637.2 202.6 637.5 208.4 637.8 204.0 638.2 211.3 638.5 204.9 638.8 214.6 639.2 201.9 639.5 211.8 639.8 208.4 640.2 206.2 640.5 201.6 640.8 210.8 641.2 204.8 641.5 204.5 641.8 208.5 642.2 202.1 642.5 211.9 642.8 201.6 643.2 208.8 643.5 204.5 643.8 211.2 644.2 198.3 644.5 210.0 644.8 205.3 645.2 212.3 645.5 204.1 645.8 200.7 646.2 217.5 646.5 207.9 646.8 206.2 647.2 211.8 647.5 214.8 647.8 202.0 648.2 205.1 648.5 212.1 648.8 204.7 649.2 210.9 649.5 201.5 649.8 211.2 650.2 201.1 650.5 199.8 650.8 199.8 651.2 207.5 651.5 201.1 651.8 205.9 652.2 206.7 652.5 210.1 652.8 203.5 653.2 208.0 653.5 204.1 653.8 210.8 654.2 207.8 654.5 210.5 654.8 205.4 655.2 200.1 655.5 208.8 655.8 203.7 656.2 215.6 656.5 203.5 656.8 214.4 657.2 199.1 657.5 210.2 657.8 208.2 658.2 202.6 658.5 211.3 658.8 200.0 659.2 209.0 659.5 210.3 659.8 203.4 660.2 202.9 660.5 207.5 660.8 203.7 661.2 209.8 661.5 201.2 661.8 211.5 662.2 201.0 662.5 210.1 662.8 199.4 663.2 210.9 663.5 206.1 663.8 208.4 664.2 205.3 664.5 210.6 664.8 203.3 665.2 211.8 665.5 202.6 665.8 202.9 666.2 209.9 666.5 204.2 666.8 209.5 667.2 201.7 667.5 208.3 667.8 202.2 668.2 205.5 668.5 202.8 668.8 204.8 669.2 202.6 669.5 204.4 669.8 200.4 670.2 197.7 670.5 203.8 670.8 203.4" fill="none" stroke="#0072BD" stroke-width="1.2" stroke-linejoin="round"/>
<path clip-path="url(#c2)" d="M60.5 328.8L60.8 341.1 61.0 327.5 61.2 340.4 61.5 329.8 61.8 342.3 62.0 327.7 62.2 337.3 62.5 333.2 62.8 340.4 63.0 329.6 63.2 337.3 63.5 326.7 63.8 338.5 64.0 328.3 64.2 339.2 64.5 331.7 64.8 341.1 65.0 324.0 65.2 334.9 65.5 327.0 65.8 339.4 66.0 329.4 66.2 341.4 66.5 328.7 66.8 338.6 67.0 326.6 67.2 335.9 67.5 326.2 67.8 338.3 68.0 324.0 68.2 339.1 68.5 328.3 68.8 339.0 69.0 326.4 69.2 335.3 69.5 326.7 69.8 337.6 70.0 328.4 70.2 336.0 70.5 327.5 70.8 337.2 71.0 326.9 71.2 337.1 71.5 328.2 71.8 337.9 72.0 328.0 72.2 341.0 72.5 325.0 72.8 339.4 73.0 324.9 73.2 338.5 73.5 326.4 73.8 336.3 74.0 326.6 74.2 335.8 74.5 326.0 74.8 338.3 75.0 327.3 75.2 339.5 75.5 326.4 75.8 338.8 76.0 330.9 76.2 336.7 76.5 324.0 76.8 340.5 77.0 329.2 77.2 339.0 77.5 330.0 77.8 336.4 78.0 324.1 78.2 340.9 78.5 325.9 78.8 338.7 79.0 329.7 79.2 338.2 79.5 327.2 79.8 334.8 80.0 325.4 80.2 337.6 80.5 328.0 80.8 342.2 81.0 327.8 81.2 338.6 81.5 328.3 81.8 336.7 82.0 324.8 82.2 336.0 82.5 325.1 82.8 338.6 83.0 327.3 83.2 337.8 83.5 325.5 83.8 338.3 84.0 330.0 84.2 339.1 84.5 328.6 84.8 337.2 85.0 326.1 85.2 337.1 85.5 328.5 85.8 336.7 86.0 327.7 86.2 334.6 86.5 327.3 86.8 339.2 87.0 327.2 87.2 338.5 87.5 325.6 87.8 338.9 88.0 326.5 88.2 338.9 88.5 326.3 88.8 336.2 89.0 327.9 89.2 337.0 89.5 329.4 89.8 338.3 90.0 329.2 90.2 338.7 90.5 324.7 90.8 335.6 91.0 328.8 91.2 342.6 91.5 327.7 91.8 335.7 92.0 330.7 92.2 337.3 92.5 330.4 92.8 335.3 93.0 331.4 93.2 333.0 93.5 330.0 93.8 335.3 94.0 331.7 94.2 332.9 94.5 331.0 94.8 334.5 95.0 328.5 95.2 333.9 95.5 331.2 95.8 332.7 96.0 329.8 96.2 333.5 96.5 329.0 96.8 331.8 97.0 329.8 97.2 334.3 97.5 331.0 97.8 333.9 98.0 330.6 98.2 334.6 98.5 329.1 98.8 332.7 99.0 331.3 99.2 331.6 99.5 330.3 99.8 334.5 100.0 330.9 100.2 333.3 100.5 330.6 100.8 332.6 101.0 330.2 101.2 332.9 101.5 331.0 101.8 333.9 102.0 330.8 102.2 334.1 102.5 328.7 102.8 332.7 103.0 331.0 103.2 334.3 103.5 330.8 103.8 334.4 104.0 328.6 104.2 334.5 104.5 330.2 104.8 333.7 105.0 330.5 105.2 333.6 105.5 329.8 105.8 334.5 106.0 330.4 106.2 333.2 106.5 330.0 106.8 335.3 107.0 330.0 107.2 333.2 107.5 329.7 107.8 332.9 108.0 331.5 108.2 333.0 108.5 329.6 108.8 334.3 109.0 330.1 109.2 334.1 109.5 330.7 109.8 333.6 110.0 331.5 110.2 333.9 110.5 328.6 110.8 334.2 111.0 331.5 111.2 332.4 111.5 330.0 111.8 333.2 112.0 331.3 112.2 335.5 112.5 330.4 112.8 332.6 113.0 330.8 113.2 335.7 113.5 330.2 113.8 335.1 114.0 329.9 114.2 333.0 114.5 330.6 114.8 333.1 115.0 330.8 115.2 333.7 115.5 330.8 115.8 334.9 116.0 330.8 116.2 333.1 116.5 328.9 116.8 333.6 117.0 330.7 117.2 334.4 117.5 328.8 117.8 331.9 118.0 328.0 118.2 334.3 118.5 329.3 118.8 332.7 119.0 329.6 119.2 333.4 119.5 330.4 119.8 333.5 120.0 328.6 120.2 333.8 120.5 330.4 120.8 333.1 121.0 328.2 121.2 334.6 121.5 331.6 121.8 332.9 122.0 332.3 122.2 334.7 122.5 329.9 122.8 333.3 123.0 331.6 123.2 335.5 123.5 330.8 123.8 336.3 124.0 330.3 124.2 333.2 124.5 330.1 124.8 333.8 125.0 330.1 125.2 334.4 125.5 329.7 125.8 333.5 126.0 330.2 126.2 333.5 126.5 331.1 126.8 333.2 127.0 329.2 127.2 335.5 127.5 331.3 127.8 333.3 128.0 330.3 128.2 331.8 128.5 330.7 128.8 333.4 129.0 328.7 129.2 332.7 129.5 328.6 129.8 332.7 130.0 329.0 130.2 333.3 130.5 331.0 130.8 332.1 131.0 329.1 131.2 335.2 131.5 327.7 131.8 333.7 132.0 329.8 132.2 333.7 132.5 330.1 132.8 332.5 133.0 331.1 133.2 335.9 133.5 331.8 133.8 333.8 134.0 329.6 134.2 332.7 134.5 331.7 134.8 333.2 135.0 330.9 135.2 333.4 135.5 330.6 135.8 334.4 136.0 331.5 136.2 334.4 136.5 331.7 136.8 334.7 137.0 328.1 137.2 333.9 137.5 331.9 137.8 333.3 138.0 330.0 138.2 334.7 138.5 329.8 138.8 334.7 139.0 330.7 139.2 333.8 139.5 331.9 139.8 334.3 140.0 330.8 140.2 336.1 140.5 331.3 140.8 334.0 141.0 331.9 141.2 333.0 141.5 331.1 141.8 333.0 142.0 330.1 142.2 335.3 142.5 329.7 142.8 334.1 143.0 328.5 143.2 333.1 143.5 329.0 143.8 332.8 144.0 330.2 144.2 334.7 144.5 330.8 144.8 332.9 145.0 329.5 145.2 334.1 145.5 331.2 145.8 331.8 146.0 329.3 146.2 335.0 146.5 330.0 146.8 333.1 147.0 329.1 147.2 331.5 147.5 328.0 147.8 333.6 148.0 329.8 148.2 332.5 148.5 330.2 148.8 332.8 149.0 330.4 149.2 332.8 149.5 328.8 149.8 332.8 150.0 329.1 150.2 332.1 150.5 329.1 150.8 332.1 151.0 327.9 151.2 333.7 151.5 330.8 151.8 332.4 152.0 331.6 152.2 334.2 152.5 332.0 152.8 332.5 153.0 329.8 153.2 334.5 153.5 331.2 153.8 333.1 154.0 329.6 154.2 336.3 154.5 330.6 154.8 334.1 155.0 331.0 155.2 335.0 155.5 329.5 155.8 332.8 156.0 332.1 156.2 334.1 156.5 330.3 156.8 334.0 157.0 330.1 157.2 333.1 157.5 328.4 157.8 332.9 158.0 330.8 158.2 332.8 158.5 329.6 158.8 332.3 159.0 331.0 159.2 333.6 159.5 330.4 159.8 332.7 160.0 329.0 160.2 333.9 160.5 330.7 160.8 332.0 161.0 329.9 161.2 333.0 161.5 327.5 161.8 335.0 162.0 329.4 162.2 333.6 162.5 330.5 162.8 333.2 163.0 327.5 163.2 331.7 163.5 331.1 163.8 331.9 164.0 328.5 164.2 334.1 164.5 330.0 164.8 332.8 165.0 330.7 165.2 331.7 165.5 330.9 165.8 333.8 166.0 330.5 166.2 332.9 166.5 330.7 166.8 335.0 167.0 328.4 167.2 332.9 167.5 330.3 167.8 333.0 168.0 328.4 168.2 333.6 168.5 330.3 168.8 335.5 169.0 329.5 169.2 332.3 169.5 330.9 169.8 332.3 170.0 331.0 170.2 334.4 170.5 330.3 170.8 335.2 171.0 331.9 171.2 334.5 171.5 330.6 171.8 333.4 172.0 330.2 172.2 332.6 172.5 329.0 172.8 334.5 173.0 332.1 173.2 332.8 173.5 330.8 173.8 334.2 174.0 330.5 174.2 332.3 174.5 331.2 174.8 335.3 175.0 330.8 175.2 332.6 175.5 331.8 175.8 332.7 176.0 329.2 176.2 331.9 176.5 329.9 176.8 333.9 177.0 329.5 177.2 334.5 177.5 329.5 177.8 331.8 178.0 329.8 178.2 332.1 178.5 328.9 178.8 334.9 179.0 329.1 179.2 332.4 179.5 328.5 179.8 333.7 180.0 330.0 180.2 332.8 180.5 330.6 180.8 331.7 181.0 329.3 181.2 331.7 181.5 329.7 181.8 331.9 182.0 329.6 182.2 333.7 182.5 329.2 182.8 332.9 183.0 327.7 183.2 333.1 183.5 328.1 183.8 334.1 184.0 331.5 184.2 333.1 184.5 331.8 184.8 332.9 185.0 330.1 185.2 334.6 185.5 328.6 185.8 332.5 186.0 331.0 186.2 334.9 186.5 330.8 186.8 333.4 187.0 330.2 187.2 334.6 187.5 331.7 187.8 336.1 188.0 331.7 188.2 332.9 188.5 330.7 188.8 335.8 189.0 330.0 189.2 340.3 189.5 329.9 189.8 342.4 190.0 319.3 190.2 339.2 190.5 319.8 190.8 348.9 191.0 326.9 191.2 344.2 191.5 331.6 191.8 346.1 192.0 327.9 192.2 337.8 192.5 320.0 192.8 344.0 193.0 320.2 193.2 346.0 193.5 321.2 193.8 337.0 194.0 315.7 194.2 338.1 194.5 330.3 194.8 345.2 195.0 315.1 195.2 349.2 195.5 322.5 195.8 344.7 196.0 321.9 196.2 345.5 196.5 312.7 196.8 344.9 197.0 321.1 197.2 349.1 197.5 323.1 197.8 352.3 198.0 318.5 198.2 340.1 198.5 324.0 198.8 354.1 199.0 325.2 199.2 350.8 199.5 327.9 199.8 344.7 200.0 322.1 200.2 344.9 200.5 323.0 200.8 343.9 201.0 329.3 201.2 345.6 201.5 324.4 201.8 344.8 202.0 328.0 202.2 345.2 202.5 327.6 202.8 346.4 203.0 322.8 203.2 344.1 203.5 323.0 203.8 341.6 204.0 323.9 204.2 360.3 204.5 325.6 204.8 342.1 205.0 326.8 205.2 343.3 205.5 328.7 205.8 347.9 206.0 324.6 206.2 346.6 206.5 321.6 206.8 343.2 207.0 362.0 207.2 339.7 207.5 323.4 207.8 344.7 208.0 318.5 208.2 343.4 208.5 320.3 208.8 345.7 209.0 303.0 209.2 358.4 209.5 322.6 209.8 340.2 210.0 321.7 210.2 337.6 210.5 322.5 210.8 340.4 211.0 366.0 211.2 340.7 211.5 331.6 211.8 343.4 212.0 301.1 212.2 344.4 212.5 326.3 212.8 344.1 213.0 323.8 213.2 347.5 213.5 322.7 213.8 345.5 214.0 323.7 214.2 345.8 214.5 368.0 214.8 352.9 215.0 324.7 215.2 342.5 215.5 304.6 215.8 344.5 216.0 321.3 216.2 353.1 216.5 315.8 216.8 362.1 217.0 320.0 217.2 360.0 217.5 323.6 217.8 347.6 218.0 326.1 218.2 337.2 218.5 300.7 218.8 346.6 219.0 297.0 219.2 370.0 219.5 326.3 219.8 346.1 220.0 308.1 220.2 347.5 220.5 324.0 220.8 359.8 221.0 367.0 221.2 347.3 221.5 320.0 221.8 360.7 222.0 319.6 222.2 353.1 222.5 324.1 222.8 338.5 223.0 326.4 223.2 349.4 223.5 310.3 223.8 340.9 224.0 362.0 224.2 346.2 224.5 328.9 224.8 346.1 225.0 322.9 225.2 344.9 225.5 322.4 225.8 345.7 226.0 305.0 226.2 340.8 226.5 322.4 226.8 342.8 227.0 323.9 227.2 341.0 227.5 327.1 227.8 342.5 228.0 360.0 228.2 344.5 228.5 323.6 228.8 345.0 229.0 320.7 229.2 345.5 229.5 313.4 229.8 344.3 230.0 321.3 230.2 343.2 230.5 311.7 230.8 342.0 231.0 324.6 231.2 337.7 231.5 326.0 231.8 343.5 232.0 329.0 232.2 338.5 232.5 330.7 232.8 340.9 233.0 326.1 233.2 345.1 233.5 325.5 233.8 340.8 234.0 326.8 234.2 340.1 234.5 327.6 234.8 336.4 235.0 320.8 235.2 339.7 235.5 328.9 235.8 339.2 236.0 326.1 236.2 340.4 236.5 327.7 236.8 339.0 237.0 328.2 237.2 341.7 237.5 323.8 237.8 346.2 238.0 326.0 238.2 350.2 238.5 319.8 238.8 340.2 239.0 322.5 239.2 339.9 239.5 323.6 239.8 342.4 240.0 322.3 240.2 351.0 240.5 319.8 240.8 342.3 241.0 320.6 241.2 352.1 241.5 323.3 241.8 340.8 242.0 323.7 242.2 338.4 242.5 323.8 242.8 341.1 243.0 357.0 243.2 337.6 243.5 325.5 243.8 343.2 244.0 322.0 244.2 341.5 244.5 325.5 244.8 353.3 245.0 312.0 245.2 345.5 245.5 322.8 245.8 340.1 246.0 310.0 246.2 349.4 246.5 322.6 246.8 336.7 247.0 326.9 247.2 343.5 247.5 325.7 247.8 342.8 248.0 355.0 248.2 343.3 248.5 328.3 248.8 343.6 249.0 312.8 249.2 339.6 249.5 323.3 249.8 334.9 250.0 322.7 250.2 352.6 250.5 313.1 250.8 346.2 251.0 330.5 251.2 343.0 251.5 329.1 251.8 347.5 252.0 326.5 252.2 339.2 252.5 325.9 252.8 338.5 253.0 326.4 253.2 341.1 253.5 325.5 253.8 346.5 254.0 328.5 254.2 341.9 254.5 327.0 254.8 340.1 255.0 321.0 255.2 338.0 255.5 324.5 255.8 338.4 256.0 322.3 256.2 335.1 256.5 328.9 256.8 339.8 257.0 328.3 257.2 338.5 257.5 329.8 257.8 336.5 258.0 328.3 258.2 335.5 258.5 325.8 258.8 333.9 259.0 331.1 259.2 338.0 259.5 327.9 259.8 338.4 260.0 328.6 260.2 334.5 260.5 327.5 260.8 334.6 261.0 330.2 261.2 334.0 261.5 329.3 261.8 333.4 262.0 330.8 262.2 333.6 262.5 330.4 262.8 332.5 263.0 330.4 263.2 332.5 263.5 331.1 263.8 333.6 264.0 330.6 264.2 333.9 264.5 330.5 264.8 332.3 265.0 331.0 265.2 334.0 265.5 330.6 265.8 334.1 266.0 330.2 266.2 333.4 266.5 329.8 266.8 334.1 267.0 331.5 267.2 331.9 267.5 331.0 267.8 332.1 268.0 331.2 268.2 333.9 268.5 330.8 268.8 332.7 269.0 328.5 269.2 335.4 269.5 330.6 269.8 332.4 270.0 330.2 270.2 332.6 270.5 330.2 270.8 334.6 271.0 331.4 271.2 335.7 271.5 329.4 271.8 333.6 272.0 329.3 272.2 334.5 272.5 331.0 272.8 333.4 273.0 331.4 273.2 334.7 273.5 330.4 273.8 336.1 274.0 331.1 274.2 333.5 274.5 331.0 274.8 335.8 275.0 329.7 275.2 332.3 275.5 329.8 275.8 334.2 276.0 331.1 276.2 334.3 276.5 329.5 276.8 333.6 277.0 331.2 277.2 335.4 277.5 329.5 277.8 333.0 278.0 331.2 278.2 333.4 278.5 330.1 278.8 332.1 279.0 330.3 279.2 331.8 279.5 330.3 279.8 331.6 280.0 329.0 280.2 332.1 280.5 330.6 280.8 332.6 281.0 330.4 281.2 332.9 281.5 329.6 281.8 332.6 282.0 329.5 282.2 333.2 282.5 329.6 282.8 335.8 283.0 331.8 283.2 334.4 283.5 331.6 283.8 334.2 284.0 329.9 284.2 332.9 284.5 331.1 284.8 335.4 285.0 329.8 285.2 334.2 285.5 330.5 285.8 333.4 286.0 329.7 286.2 332.3 286.5 327.9 286.8 334.3 287.0 330.7 287.2 333.1 287.5 328.1 287.8 333.1 288.0 331.0 288.2 331.5 288.5 330.5 288.8 331.6 289.0 329.9 289.2 333.2 289.5 329.7 289.8 333.7 290.0 330.0 290.2 335.2 290.5 328.8 290.8 335.6 291.0 330.0 291.2 335.7 291.5 329.6 291.8 332.4 292.0 330.5 292.2 333.6 292.5 330.4 292.8 332.6 293.0 330.7 293.2 336.0 293.5 331.4 293.8 333.0 294.0 330.8 294.2 332.8 294.5 328.6 294.8 332.6 295.0 328.9 295.2 333.2 295.5 330.6 295.8 334.0 296.0 330.3 296.2 333.2 296.5 330.0 296.8 333.6 297.0 330.2 297.2 333.6 297.5 329.1 297.8 332.7 298.0 328.9 298.2 332.9 298.5 330.0 298.8 332.4 299.0 327.4 299.2 332.0 299.5 328.7 299.8 334.4 300.0 327.5 300.2 333.2 300.5 329.0 300.8 333.6 301.0 328.3 301.2 333.2 301.5 329.8 301.8 332.7 302.0 329.3 302.2 332.2 302.5 331.3 302.8 332.8 303.0 331.2 303.2 334.4 303.5 330.7 303.8 334.4 304.0 330.7 304.2 333.0 304.5 330.2 304.8 334.6 305.0 331.9 305.2 334.3 305.5 330.8 305.8 332.9 306.0 329.3 306.2 334.1 306.5 331.6 306.8 334.6 307.0 330.6 307.2 333.5 307.5 331.3 307.8 333.9 308.0 330.3 308.2 333.5 308.5 329.3 308.8 332.6 309.0 329.7 309.2 332.7 309.5 329.3 309.8 332.8 310.0 330.9 310.2 332.9 310.5 330.4 310.8 333.9 311.0 330.7 311.2 333.9 311.5 331.6 311.8 332.3 312.0 330.9 312.2 333.8 312.5 328.9 312.8 333.2 313.0 330.9 313.2 334.2 313.5 331.4 313.8 334.1 314.0 328.7 314.2 333.9 314.5 330.1 314.8 333.3 315.0 331.4 315.2 332.8 315.5 331.2 315.8 334.6 316.0 329.0 316.2 333.4 316.5 329.0 316.8 333.9 317.0 329.3 317.2 333.4 317.5 329.4 317.8 332.2 318.0 328.1 318.2 333.5 318.5 331.0 318.8 331.3 319.0 330.1 319.2 332.8 319.5 330.9 319.8 332.1 320.0 329.5 320.2 333.2 320.5 329.7 320.8 332.0 321.0 331.0 321.2 332.8 321.5 329.6 321.8 333.7 322.0 330.2 322.2 332.5 322.5 331.8 322.8 332.4 323.0 331.5 323.2 333.8 323.5 332.0 323.8 335.6 324.0 331.8 324.2 334.7 324.5 331.4 324.8 334.7 325.0 332.1 325.2 334.3 325.5 330.7 325.8 332.9 326.0 330.5 326.2 334.2 326.5 330.2 326.8 333.3 327.0 331.0 327.2 334.0 327.5 330.6 327.8 333.6 328.0 329.8 328.2 332.3 328.5 329.8 328.8 334.5 329.0 329.2 329.2 333.5 329.5 329.9 329.8 332.1 330.0 328.0 330.2 333.2 330.5 327.9 330.8 333.0 331.0 328.5 331.2 332.2 331.5 329.9 331.8 331.2 332.0 329.8 332.2 334.1 332.5 329.4 332.8 332.8 333.0 329.2 333.2 333.2 333.5 330.8 333.8 332.7 334.0 330.4 334.2 335.0 334.5 328.6 334.8 334.8 335.0 327.0 335.2 334.0 335.5 325.5 335.8 333.1 336.0 328.4 336.2 338.6 336.5 325.8 336.8 336.5 337.0 328.0 337.2 334.9 337.5 324.5 337.8 335.6 338.0 314.0 338.2 353.0 338.5 326.9 338.8 333.2 339.0 323.2 339.2 336.4 339.5 325.8 339.8 339.3 340.0 324.3 340.2 333.8 340.5 330.0 340.8 336.9 341.0 327.3 341.2 337.3 341.5 328.1 341.8 334.8 342.0 328.7 342.2 337.6 342.5 329.5 342.8 335.0 343.0 330.7 343.2 335.0 343.5 329.5 343.8 332.4 344.0 327.8 344.2 335.3 344.5 330.5 344.8 336.2 345.0 329.6 345.2 333.0 345.5 331.2 345.8 332.6 346.0 331.4 346.2 333.9 346.5 331.7 346.8 334.6 347.0 329.6 347.2 335.8 347.5 329.3 347.8 332.0 348.0 329.7 348.2 332.1 348.5 330.5 348.8 332.8 349.0 328.5 349.2 331.3 349.5 330.1 349.8 335.3 350.0 328.1 350.2 334.5 350.5 328.3 350.8 332.5 351.0 329.4 351.2 333.2 351.5 330.2 351.8 332.7 352.0 331.0 352.2 332.9 352.5 327.0 352.8 331.8 353.0 331.2 353.2 333.6 353.5 329.3 353.8 334.9 354.0 329.5 354.2 333.5 354.5 328.1 354.8 333.4 355.0 329.8 355.2 335.0 355.5 328.6 355.8 335.0 356.0 320.2 356.2 341.9 356.5 326.7 356.8 340.2 357.0 328.4 357.2 342.2 357.5 329.4 357.8 338.2 358.0 330.8 358.2 351.1 358.5 324.9 358.8 337.2 359.0 325.1 359.2 341.2 359.5 328.0 359.8 339.9 360.0 325.2 360.2 348.8 360.5 323.1 360.8 348.1 361.0 327.7 361.2 340.6 361.5 324.6 361.8 341.0 362.0 323.6 362.2 351.6 362.5 324.6 362.8 342.2 363.0 357.0 363.2 337.3 363.5 322.1 363.8 336.1 364.0 324.7 364.2 342.9 364.5 322.1 364.8 347.3 365.0 312.0 365.2 340.6 365.5 323.1 365.8 342.5 366.0 326.9 366.2 340.2 366.5 324.8 366.8 339.2 367.0 355.0 367.2 340.8 367.5 325.2 367.8 342.0 368.0 326.1 368.2 341.0 368.5 323.1 368.8 339.1 369.0 329.8 369.2 333.1 369.5 316.2 369.8 341.6 370.0 318.3 370.2 334.5 370.5 326.5 370.8 341.9 371.0 324.5 371.2 339.2 371.5 322.7 371.8 341.8 372.0 317.4 372.2 340.7 372.5 323.6 372.8 341.3 373.0 323.4 373.2 340.8 373.5 329.4 373.8 338.4 374.0 321.3 374.2 340.3 374.5 325.6 374.8 341.7 375.0 327.7 375.2 336.5 375.5 330.8 375.8 342.3 376.0 325.9 376.2 338.3 376.5 321.7 376.8 337.3 377.0 326.8 377.2 335.3 377.5 332.0 377.8 335.4 378.0 329.8 378.2 332.5 378.5 329.9 378.8 335.6 379.0 327.6 379.2 334.4 379.5 329.1 379.8 332.9 380.0 328.4 380.2 332.4 380.5 327.1 380.8 332.4 381.0 328.6 381.2 333.3 381.5 328.6 381.8 336.0 382.0 328.0 382.2 334.6 382.5 330.0 382.8 334.7 383.0 328.6 383.2 332.1 383.5 331.4 383.8 332.7 384.0 329.8 384.2 334.2 384.5 328.7 384.8 337.2 385.0 328.8 385.2 335.4 385.5 329.2 385.8 336.0 386.0 329.7 386.2 333.4 386.5 330.4 386.8 337.2 387.0 329.2 387.2 334.2 387.5 329.5 387.8 334.1 388.0 331.0 388.2 333.7 388.5 329.5 388.8 336.0 389.0 329.3 389.2 333.6 389.5 331.1 389.8 335.7 390.0 329.2 390.2 332.9 390.5 330.3 390.8 332.4 391.0 329.0 391.2 337.0 391.5 328.5 391.8 334.8 392.0 330.0 392.2 333.3 392.5 329.1 392.8 333.4 393.0 328.2 393.2 333.5 393.5 329.7 393.8 335.0 394.0 330.4 394.2 333.0 394.5 331.2 394.8 334.9 395.0 329.6 395.2 333.5 395.5 327.6 395.8 335.0 396.0 330.8 396.2 332.5 396.5 328.7 396.8 335.2 397.0 328.4 397.2 334.6 397.5 331.8 397.8 333.9 398.0 331.5 398.2 332.6 398.5 331.5 398.8 334.0 399.0 329.6 399.2 333.6 399.5 329.2 399.8 332.3 400.0 330.7 400.2 332.6 400.5 329.7 400.8 334.6 401.0 330.8 401.2 334.9 401.5 330.2 401.8 332.7 402.0 330.6 402.2 334.5 402.5 331.7 402.8 333.6 403.0 330.6 403.2 334.0 403.5 330.4 403.8 337.4 404.0 331.4 404.2 335.5 404.5 330.1 404.8 335.5 405.0 329.1 405.2 334.7 405.5 329.3 405.8 336.9 406.0 331.3 406.2 335.5 406.5 331.2 406.8 333.8 407.0 330.7 407.2 334.2 407.5 329.3 407.8 335.6 408.0 329.9 408.2 336.5 408.5 331.2 408.8 333.5 409.0 327.1 409.2 334.4 409.5 331.9 409.8 332.5 410.0 330.7 410.2 335.9 410.5 328.0 410.8 332.1 411.0 326.9 411.2 333.2 411.5 326.0 411.8 334.2 412.0 330.0 412.2 332.8 412.5 326.3 412.8 331.4 413.0 329.3 413.2 331.8 413.5 331.2 413.8 334.3 414.0 328.9 414.2 336.7 414.5 328.6 414.8 335.8 415.0 329.4 415.2 333.5 415.5 331.7 415.8 335.0 416.0 329.2 416.2 332.5 416.5 328.0 416.8 333.2 417.0 329.0 417.2 337.4 417.5 331.6 417.8 335.4 418.0 331.1 418.2 333.0 418.5 332.1 418.8 333.2 419.0 330.7 419.2 333.5 419.5 327.3 419.8 335.4 420.0 331.6 420.2 332.5 420.5 328.6 420.8 334.6 421.0 329.2 421.2 332.7 421.5 329.6 421.8 333.2 422.0 331.1 422.2 336.3 422.5 329.1 422.8 334.6 423.0 329.1 423.2 332.9 423.5 327.9 423.8 332.6 424.0 330.8 424.2 334.6 424.5 331.3 424.8 334.8 425.0 328.7 425.2 333.5 425.5 329.8 425.8 334.9 426.0 329.5 426.2 334.5 426.5 329.4 426.8 332.2 427.0 329.4 427.2 334.3 427.5 330.6 427.8 332.2 428.0 330.6 428.2 333.9 428.5 330.6 428.8 333.9 429.0 328.3 429.2 334.2 429.5 328.9 429.8 331.9 430.0 329.7 430.2 334.4 430.5 331.6 430.8 333.4 431.0 329.2 431.2 333.9 431.5 330.3 431.8 336.1 432.0 331.5 432.2 333.4 432.5 329.1 432.8 335.9 433.0 329.4 433.2 333.4 433.5 327.1 433.8 332.8 434.0 331.1 434.2 333.0 434.5 331.8 434.8 333.5 435.0 327.4 435.2 333.2 435.5 327.4 435.8 333.9 436.0 329.7 436.2 335.0 436.5 331.7 436.8 333.6 437.0 331.5 437.2 332.8 437.5 330.1 437.8 332.3 438.0 330.4 438.2 334.9 438.5 330.8 438.8 334.3 439.0 328.7 439.2 334.4 439.5 329.8 439.8 333.9 440.0 329.4 440.2 333.8 440.5 330.1 440.8 332.0 441.0 328.7 441.2 333.0 441.5 329.7 441.8 333.3 442.0 327.6 442.2 333.2 442.5 329.0 442.8 333.6 443.0 327.7 443.2 333.3 443.5 329.1 443.8 335.3 444.0 331.6 444.2 336.0 444.5 329.8 444.8 333.9 445.0 327.5 445.2 333.5 445.5 331.1 445.8 332.3 446.0 330.1 446.2 334.9 446.5 330.2 446.8 332.0 447.0 331.9 447.2 334.2 447.5 330.7 447.8 332.8 448.0 328.7 448.2 334.6 448.5 328.5 448.8 332.6 449.0 331.4 449.2 332.4 449.5 329.4 449.8 333.5 450.0 330.6 450.2 332.3 450.5 331.0 450.8 334.3 451.0 328.0 451.2 333.4 451.5 330.9 451.8 335.0 452.0 330.8 452.2 332.8 452.5 331.3 452.8 333.4 453.0 329.5 453.2 334.7 453.5 327.8 453.8 332.9 454.0 329.8 454.2 332.5 454.5 330.3 454.8 335.4 455.0 327.8 455.2 334.0 455.5 331.0 455.8 333.4 456.0 330.6 456.2 334.3 456.5 331.0 456.8 333.0 457.0 329.8 457.2 332.9 457.5 329.8 457.8 334.5 458.0 330.7 458.2 333.5 458.5 331.8 458.8 334.2 459.0 330.7 459.2 333.7 459.5 331.2 459.8 333.9 460.0 330.4 460.2 334.8 460.5 329.3 460.8 333.6 461.0 331.2 461.2 332.9 461.5 330.2 461.8 334.1 462.0 327.8 462.2 335.6 462.5 329.7 462.8 333.3 463.0 330.2 463.2 332.8 463.5 330.2 463.8 333.1 464.0 330.3 464.2 332.1 464.5 331.5 464.8 335.2 465.0 330.6 465.2 332.7 465.5 329.4 465.8 332.0 466.0 329.4 466.2 334.2 466.5 331.9 466.8 334.3 467.0 328.9 467.2 332.7 467.5 329.9 467.8 334.4 468.0 331.6 468.2 334.8 468.5 331.3 468.8 334.2 469.0 331.3 469.2 332.2 469.5 331.3 469.8 334.0 470.0 331.0 470.2 334.2 470.5 331.5 470.8 333.1 471.0 328.4 471.2 332.3 471.5 331.0 471.8 334.7 472.0 330.9 472.2 332.8 472.5 329.4 472.8 333.4 473.0 331.7 473.2 334.4 473.5 328.6 473.8 334.9 474.0 331.4 474.2 334.8 474.5 330.7 474.8 333.7 475.0 330.5 475.2 332.8 475.5 331.4 475.8 333.0 476.0 329.7 476.2 332.4 476.5 328.6 476.8 335.2 477.0 330.5 477.2 332.2 477.5 331.1 477.8 333.1 478.0 330.8 478.2 333.4 478.5 329.8 478.8 333.0 479.0 331.4 479.2 334.1 479.5 331.2 479.8 332.5 480.0 331.9 480.2 334.4 480.5 330.1 480.8 333.7 481.0 331.5 481.2 334.1 481.5 328.4 481.8 333.7 482.0 329.6 482.2 333.2 482.5 331.1 482.8 334.2 483.0 328.7 483.2 332.6 483.5 330.0 483.8 333.5 484.0 331.0 484.2 335.7 484.5 330.5 484.8 334.2 485.0 329.2 485.2 332.1 485.5 329.5 485.8 332.9 486.0 330.9 486.2 333.0 486.5 331.4 486.8 333.6 487.0 329.8 487.2 332.5 487.5 331.5 487.8 333.6 488.0 329.2 488.2 332.1 488.5 329.2 488.8 335.0 489.0 330.9 489.2 333.7 489.5 329.6 489.8 332.7 490.0 330.1 490.2 332.4 490.5 330.1 490.8 335.7 491.0 330.6 491.2 335.3 491.5 329.7 491.8 333.6 492.0 329.6 492.2 333.9 492.5 330.3 492.8 333.8 493.0 331.6 493.2 332.3 493.5 329.0 493.8 335.6 494.0 329.8 494.2 332.9 494.5 329.9 494.8 334.3 495.0 331.7 495.2 333.8 495.5 331.5 495.8 334.2 496.0 328.7 496.2 333.4 496.5 330.7 496.8 333.1 497.0 330.2 497.2 333.7 497.5 331.8 497.8 334.5 498.0 330.7 498.2 334.1 498.5 329.6 498.8 332.0 499.0 329.8 499.2 333.2 499.5 330.2 499.8 331.9 500.0 329.3 500.2 333.0 500.5 329.7 500.8 333.5 501.0 330.8 501.2 333.8 501.5 331.1 501.8 332.0 502.0 328.9 502.2 332.3 502.5 329.3 502.8 333.3 503.0 329.9 503.2 333.3 503.5 330.7 503.8 331.7 504.0 330.9 504.2 331.9 504.5 331.3 504.8 331.9 505.0 331.5 505.2 332.2 505.5 330.5 505.8 332.8 506.0 329.8 506.2 333.6 506.5 330.0 506.8 335.6 507.0 330.1 507.2 334.3 507.5 331.2 507.8 332.9 508.0 329.2 508.2 337.3 508.5 330.2 508.8 343.3 509.0 323.6 509.2 345.5 509.5 330.6 509.8 345.9 510.0 329.3 510.2 357.6 510.5 330.5 510.8 350.4 511.0 329.7 511.2 340.5 511.5 325.0 511.8 346.6 512.0 369.0 512.2 342.5 512.5 300.4 512.8 344.0 513.0 311.0 513.2 356.8 513.5 317.8 513.8 341.4 514.0 324.8 514.2 349.2 514.5 322.3 514.8 343.6 515.0 321.0 515.2 352.8 515.5 323.9 515.8 367.1 516.0 370.0 516.2 345.2 516.5 322.7 516.8 339.5 517.0 323.5 517.2 342.6 517.5 306.2 517.8 340.7 518.0 312.6 518.2 345.3 518.5 306.4 518.8 344.3 519.0 326.9 519.2 344.2 519.5 300.9 519.8 342.9 520.0 368.0 520.2 345.0 520.5 311.2 520.8 343.9 521.0 312.8 521.2 340.2 521.5 322.5 521.8 344.0 522.0 312.6 522.2 342.2 522.5 323.4 522.8 362.2 523.0 322.6 523.2 344.9 523.5 324.9 523.8 343.1 524.0 322.6 524.2 341.9 524.5 319.6 524.8 341.4 525.0 299.0 525.2 370.0 525.5 323.1 525.8 346.2 526.0 326.3 526.2 345.8 526.5 323.7 526.8 346.2 527.0 324.0 527.2 363.0 527.5 314.4 527.8 354.5 528.0 325.4 528.2 338.9 528.5 331.5 528.8 346.0 529.0 325.1 529.2 343.5 529.5 323.8 529.8 337.5 530.0 300.0 530.2 361.8 530.5 329.2 530.8 344.7 531.0 324.0 531.2 342.9 531.5 303.1 531.8 347.1 532.0 320.9 532.2 339.9 532.5 309.6 532.8 360.1 533.0 314.3 533.2 339.7 533.5 310.1 533.8 361.2 534.0 369.0 534.2 343.9 534.5 326.8 534.8 352.8 535.0 325.8 535.2 358.4 535.5 323.1 535.8 340.7 536.0 300.0 536.2 363.1 536.5 322.2 536.8 345.7 537.0 322.8 537.2 343.0 537.5 323.0 537.8 351.4 538.0 322.1 538.2 344.7 538.5 328.3 538.8 343.8 539.0 329.2 539.2 343.7 539.5 328.4 539.8 343.4 540.0 305.4 540.2 347.8 540.5 314.2 540.8 350.9 541.0 321.2 541.2 342.4 541.5 305.9 541.8 341.8 542.0 323.6 542.2 342.9 542.5 328.3 542.8 353.8 543.0 331.0 543.2 339.8 543.5 325.3 543.8 340.1 544.0 324.6 544.2 359.4 544.5 307.5 544.8 344.9 545.0 302.0 545.2 344.5 545.5 324.5 545.8 345.0 546.0 328.7 546.2 338.0 546.5 313.1 546.8 345.3 547.0 325.4 547.2 347.4 547.5 327.0 547.8 343.1 548.0 323.7 548.2 345.7 548.5 315.7 548.8 341.4 549.0 321.9 549.2 338.7 549.5 329.9 549.8 343.0 550.0 330.8 550.2 340.2 550.5 323.8 550.8 343.0 551.0 320.2 551.2 337.2 551.5 322.3 551.8 342.2 552.0 323.0 552.2 353.7 552.5 314.5 552.8 337.1 553.0 317.3 553.2 343.2 553.5 326.1 553.8 342.1 554.0 323.8 554.2 341.7 554.5 329.5 554.8 342.2 555.0 325.6 555.2 351.2 555.5 326.1 555.8 342.6 556.0 330.9 556.2 341.7 556.5 328.5 556.8 346.7 557.0 319.9 557.2 342.3 557.5 311.7 557.8 340.1 558.0 328.5 558.2 343.1 558.5 321.3 558.8 344.5 559.0 326.0 559.2 342.8 559.5 324.5 559.8 349.7 560.0 305.0 560.2 341.9 560.5 324.2 560.8 340.9 561.0 324.5 561.2 339.2 561.5 328.1 561.8 339.9 562.0 325.5 562.2 353.8 562.5 327.4 562.8 337.4 563.0 329.1 563.2 351.1 563.5 323.7 563.8 353.5 564.0 324.4 564.2 341.1 564.5 314.3 564.8 341.7 565.0 320.5 565.2 348.7 565.5 327.0 565.8 340.7 566.0 324.0 566.2 341.5 566.5 324.3 566.8 342.4 567.0 326.3 567.2 340.9 567.5 329.9 567.8 340.8 568.0 316.8 568.2 343.7 568.5 324.0 568.8 351.3 569.0 324.6 569.2 339.0 569.5 324.3 569.8 343.7 570.0 327.0 570.2 338.7 570.5 328.4 570.8 339.9 571.0 327.4 571.2 337.6 571.5 327.7 571.8 350.7 572.0 324.4 572.2 343.4 572.5 331.6 572.8 343.1 573.0 323.8 573.2 343.4 573.5 325.6 573.8 346.5 574.0 327.7 574.2 340.1 574.5 320.2 574.8 340.0 575.0 326.4 575.2 350.7 575.5 329.0 575.8 341.4 576.0 321.7 576.2 343.5 576.5 325.2 576.8 340.3 577.0 319.8 577.2 344.1 577.5 325.0 577.8 354.7 578.0 325.8 578.2 343.1 578.5 323.7 578.8 341.3 579.0 327.8 579.2 341.2 579.5 330.5 579.8 354.2 580.0 316.3 580.2 341.0 580.5 321.2 580.8 350.0 581.0 330.8 581.2 339.8 581.5 323.9 581.8 343.5 582.0 328.8 582.2 335.3 582.5 330.1 582.8 334.5 583.0 330.9 583.2 332.7 583.5 331.7 583.8 332.8 584.0 329.9 584.2 331.7 584.5 331.1 584.8 333.9 585.0 327.1 585.2 331.8 585.5 330.3 585.8 334.5 586.0 329.8 586.2 335.9 586.5 330.6 586.8 333.5 587.0 329.3 587.2 335.4 587.5 330.1 587.8 335.4 588.0 331.7 588.2 337.0 588.5 331.9 588.8 336.9 589.0 330.8 589.2 333.7 589.5 332.1 589.8 335.5 590.0 331.0 590.2 336.5 590.5 331.5 590.8 336.6 591.0 330.5 591.2 334.9 591.5 330.0 591.8 332.8 592.0 331.8 592.2 334.1 592.5 329.9 592.8 332.3 593.0 330.1 593.2 334.1 593.5 328.7 593.8 334.1 594.0 329.8 594.2 334.8 594.5 329.5 594.8 333.6 595.0 330.5 595.2 333.7 595.5 327.6 595.8 335.6 596.0 330.6 596.2 333.9 596.5 327.8 596.8 334.7 597.0 329.8 597.2 334.4 597.5 331.7 597.8 336.0 598.0 329.3 598.2 333.8 598.5 330.9 598.8 335.9 599.0 331.2 599.2 332.3 599.5 330.1 599.8 332.4 600.0 330.0 600.2 336.5 600.5 331.5 600.8 336.1 601.0 331.7 601.2 332.2 601.5 329.2 601.8 334.6 602.0 329.8 602.2 333.9 602.5 327.3 602.8 335.2 603.0 327.2 603.2 333.2 603.5 329.3 603.8 333.1 604.0 330.3 604.2 332.0 604.5 331.0 604.8 333.1 605.0 330.7 605.2 333.2 605.5 329.9 605.8 332.9 606.0 329.3 606.2 335.7 606.5 329.4 606.8 333.8 607.0 330.5 607.2 335.2 607.5 331.2 607.8 334.7 608.0 330.3 608.2 335.8 608.5 331.5 608.8 334.0 609.0 332.2 609.2 333.8 609.5 331.7 609.8 336.2 610.0 329.9 610.2 335.8 610.5 330.5 610.8 334.4 611.0 331.3 611.2 334.6 611.5 330.8 611.8 332.4 612.0 328.1 612.2 333.8 612.5 328.9 612.8 333.3 613.0 328.7 613.2 335.7 613.5 330.5 613.8 333.7 614.0 330.0 614.2 335.4 614.5 329.3 614.8 332.5 615.0 329.0 615.2 333.2 615.5 328.5 615.8 333.8 616.0 329.2 616.2 332.7 616.5 329.6 616.8 332.6 617.0 329.1 617.2 333.9 617.5 331.3 617.8 334.5 618.0 329.9 618.2 335.0 618.5 329.6 618.8 334.1 619.0 329.3 619.2 333.2 619.5 329.1 619.8 336.6 620.0 330.5 620.2 332.7 620.5 331.2 620.8 334.7 621.0 331.9 621.2 334.5 621.5 330.5 621.8 334.1 622.0 332.2 622.2 334.1 622.5 331.7 622.8 332.3 623.0 329.6 623.2 334.3 623.5 329.3 623.8 335.0 624.0 330.6 624.2 334.4 624.5 330.5 624.8 334.2 625.0 329.9 625.2 333.7 625.5 328.9 625.8 333.7 626.0 328.7 626.2 332.7 626.5 330.6 626.8 334.4 627.0 329.9 627.2 333.0 627.5 330.1 627.8 332.5 628.0 331.8 628.2 334.2 628.5 331.5 628.8 334.5 629.0 329.9 629.2 333.1 629.5 331.5 629.8 334.0 630.0 331.5 630.2 332.7 630.5 329.7 630.8 332.9 631.0 330.8 631.2 333.0 631.5 328.6 631.8 334.3 632.0 331.7 632.2 334.4 632.5 330.2 632.8 333.7 633.0 330.2 633.2 332.6 633.5 331.5 633.8 333.4 634.0 330.5 634.2 333.7 634.5 330.8 634.8 333.4 635.0 329.7 635.2 334.3 635.5 328.0 635.8 332.3 636.0 329.3 636.2 332.5 636.5 328.8 636.8 334.7 637.0 329.6 637.2 333.0 637.5 331.8 637.8 333.5 638.0 330.1 638.2 334.3 638.5 331.5 638.8 334.2 639.0 330.6 639.2 334.4 639.5 330.6 639.8 334.1 640.0 331.4 640.2 333.6 640.5 330.9 640.8 333.3 641.0 331.1 641.2 332.8 641.5 331.6 641.8 332.5 642.0 332.0 642.2 332.5 642.5 331.9 642.8 332.6 643.0 331.5 643.2 335.2 643.5 330.4 643.8 331.9 644.0 331.1 644.2 333.5 644.5 330.0 644.8 332.4 645.0 331.4 645.2 332.5 645.5 330.5 645.8 332.3 646.0 329.2 646.2 335.0 646.5 328.2 646.8 335.1 647.0 328.2 647.2 333.8 647.5 330.3 647.8 333.0 648.0 331.1 648.2 333.5 648.5 331.5 648.8 332.9 649.0 328.8 649.2 332.8 649.5 330.0 649.8 334.7 650.0 330.7 650.2 334.2 650.5 332.3 650.8 332.9 651.0 332.3 651.2 335.2 651.5 331.9 651.8 335.6 652.0 332.1 652.2 334.9 652.5 329.9 652.8 334.0 653.0 330.2 653.2 333.0 653.5 330.7 653.8 333.0 654.0 330.0 654.2 332.4 654.5 330.7 654.8 332.0 655.0 329.7 655.2 333.8 655.5 329.6 655.8 331.9 656.0 330.6 656.2 333.1 656.5 329.8 656.8 332.6 657.0 328.2 657.2 332.0 657.5 330.8 657.8 334.4 658.0 329.7 658.2 333.9 658.5 329.7 658.8 332.7 659.0 328.5 659.2 332.8 659.5 329.5 659.8 335.2 660.0 331.4 660.2 335.7 660.5 330.5 660.8 333.2 661.0 331.8 661.2 334.3 661.5 329.4 661.8 335.2 662.0 332.3 662.2 336.1 662.5 331.0 662.8 333.0 663.0 330.3 663.2 333.7 663.5 330.7 663.8 335.4 664.0 330.2 664.2 333.5 664.5 331.0 664.8 333.9 665.0 331.3 665.2 335.6 665.5 329.9 665.8 332.9 666.0 329.6 666.2 335.2 666.5 329.5 666.8 333.5 667.0 330.5 667.2 333.1 667.5 329.7 667.8 334.5 668.0 329.4 668.2 333.8 668.5 328.4 668.8 332.1 669.0 330.6 669.2 334.6 669.5 329.9 669.8 334.2 670.0 329.6 670.2 333.3 670.5 332.0 670.8 334.2 671.0 330.8" fill="none" stroke="#0072BD" stroke-width="1.2" stroke-linejoin="round"/>
<path clip-path="url(#c3)" d="M60.5 474.0L60.8 462.3 61.2 469.0 61.5 461.0 61.8 459.2 62.2 468.5 62.5 460.0 62.8 462.8 63.2 462.1 63.5 460.6 63.8 466.0 64.2 463.5 64.5 469.1 64.8 461.9 65.2 464.3 65.5 466.5 65.8 461.8 66.2 462.0 66.5 463.7 66.8 460.2 67.2 465.7 67.5 456.1 67.8 462.4 68.2 458.1 68.5 463.3 68.8 464.4 69.2 460.0 69.5 461.1 69.8 465.1 70.2 457.1 70.5 460.9 70.8 459.1 71.2 462.8 71.5 460.5 71.8 461.7 72.2 452.2 72.5 453.1 72.8 462.2 73.2 454.5 73.5 459.7 73.8 467.3 74.2 455.9 74.5 469.0 74.8 457.6 75.2 456.7 75.5 460.0 75.8 449.5 76.2 460.3 76.5 460.8 76.8 449.4 77.2 465.3 77.5 455.6 77.8 459.1 78.2 451.4 78.5 458.1 78.8 455.9 79.2 447.0 79.5 471.5 79.8 457.4 80.2 458.6 80.5 453.0 80.8 462.3 81.2 458.1 81.5 456.6 81.8 459.1 82.2 455.7 82.5 460.7 82.8 455.9 83.2 458.5 83.5 456.0 83.8 458.9 84.2 456.2 84.5 458.2 84.8 455.0 85.2 458.6 85.5 454.4 85.8 456.2 86.2 456.5 86.5 456.0 86.8 457.1 87.2 454.8 87.5 456.2 87.8 458.8 88.2 455.1 88.5 451.4 88.8 458.8 89.2 453.0 89.5 455.2 89.8 457.4 90.2 457.3 90.5 460.4 90.8 458.7 91.2 455.0 91.5 460.0 91.8 457.3 92.2 461.8 92.5 458.2 92.8 459.3 93.2 457.7 93.5 459.9 93.8 453.2 94.2 464.5 94.5 462.7 94.8 454.8 95.2 457.7 95.5 456.7 95.8 455.3 96.2 462.5 96.5 450.4 96.8 454.6 97.2 465.0 97.5 455.4 97.8 460.0 98.2 458.6 98.5 453.9 98.8 462.7 99.2 454.1 99.5 456.1 99.8 451.3 100.2 461.4 100.5 452.2 100.8 457.6 101.2 459.3 101.5 451.2 101.8 457.4 102.2 454.1 102.5 457.8 102.8 453.6 103.2 458.9 103.5 463.4 103.8 458.4 104.2 460.9 104.5 455.4 104.8 454.3 105.2 462.4 105.5 455.6 105.8 460.6 106.2 456.1 106.5 460.5 106.8 454.6 107.2 455.7 107.5 460.2 107.8 462.6 108.2 459.0 108.5 454.0 108.8 465.6 109.2 457.7 109.5 452.7 109.8 462.1 110.2 451.1 110.5 453.6 110.8 456.7 111.2 458.8 111.5 456.6 111.8 465.7 112.2 455.7 112.5 460.8 112.8 452.2 113.2 459.3 113.5 452.2 113.8 461.2 114.2 452.3 114.5 454.7 114.8 445.9 115.2 453.8 115.5 450.1 115.8 458.6 116.2 443.3 116.5 446.2 116.8 451.0 117.2 456.1 117.5 450.3 117.8 444.9 118.2 449.8 118.5 447.2 118.8 448.4 119.2 447.9 119.5 443.8 119.8 451.0 120.2 447.1 120.5 450.2 120.8 447.0 121.2 452.7 121.5 439.7 121.8 446.0 122.2 444.0 122.5 451.3 122.8 446.6 123.2 454.1 123.5 447.2 123.8 455.0 124.2 451.7 124.5 446.8 124.8 453.8 125.2 444.7 125.5 455.7 125.8 449.4 126.2 458.1 126.5 445.9 126.8 457.6 127.2 452.5 127.5 446.3 127.8 446.7 128.2 454.8 128.5 453.4 128.8 449.3 129.0 439.5 129.5 451.3 129.8 449.1 130.2 446.2 130.5 459.6 130.8 454.3 131.2 447.6 131.5 455.8 131.8 447.1 132.2 455.3 132.5 451.3 132.8 454.0 133.2 447.3 133.5 447.4 133.8 452.5 134.2 451.3 134.5 452.3 134.8 449.2 135.2 451.1 135.5 454.3 135.8 452.0 136.2 447.2 136.5 451.3 136.8 446.1 137.2 451.2 137.5 450.1 137.8 450.1 138.2 446.0 138.5 449.7 138.8 448.6 139.2 444.0 139.5 447.6 139.8 451.1 140.2 446.7 140.5 450.0 140.8 441.2 141.2 448.5 141.5 449.6 141.8 447.3 142.2 451.6 142.5 446.0 142.8 449.3 143.2 449.7 143.5 449.3 143.8 455.3 144.2 447.2 144.5 453.8 144.8 455.5 145.2 450.1 145.5 452.8 145.8 452.0 146.2 447.8 146.5 447.9 146.8 456.9 147.2 449.2 147.5 459.3 147.8 446.8 148.2 456.0 148.5 451.3 148.8 455.3 149.2 448.7 149.5 454.1 149.8 447.8 150.2 454.1 150.5 450.7 150.8 451.0 151.2 451.8 151.5 450.4 151.8 455.0 152.2 448.8 152.5 456.3 152.8 446.1 153.2 454.0 153.5 446.6 153.8 448.7 154.2 457.7 154.5 446.2 154.8 452.3 155.2 448.2 155.5 455.8 155.8 450.7 156.2 451.4 156.5 452.9 156.8 447.3 157.2 453.2 157.5 451.1 157.8 456.3 158.2 449.9 158.5 450.0 158.8 451.3 159.2 444.1 159.5 456.3 159.8 449.4 160.2 453.9 160.5 454.9 160.8 450.2 161.2 452.9 161.5 450.2 161.8 442.5 162.2 453.6 162.5 448.6 162.8 456.5 163.2 448.9 163.5 451.7 163.8 455.4 164.2 447.7 164.5 450.5 164.8 446.7 165.2 455.8 165.5 450.8 165.8 446.7 166.2 451.9 166.5 450.2 166.8 453.1 167.2 446.2 167.5 443.4 167.8 455.0 168.2 450.6 168.5 446.0 168.8 455.7 169.2 450.0 169.5 450.7 169.8 449.0 170.2 451.5 170.5 448.4 170.8 451.7 171.2 450.0 171.5 444.8 171.8 449.9 172.2 446.2 172.5 450.6 172.8 448.1 173.2 451.6 173.5 454.9 173.8 451.1 174.2 455.3 174.5 450.1 174.8 455.6 175.2 451.8 175.5 461.8 175.8 452.8 176.2 460.7 176.5 454.6 176.8 465.2 177.2 460.0 177.5 468.0 177.8 459.1 178.2 472.2 178.5 462.1 178.8 463.5 179.2 459.4 179.5 466.1 179.8 455.2 180.2 461.6 180.5 463.8 180.8 467.0 181.2 462.4 181.5 470.2 181.8 450.9 182.2 462.7 182.5 458.6 182.8 463.4 183.2 455.1 183.5 462.7 183.8 459.6 184.2 466.2 184.5 459.7 184.8 462.7 185.2 459.6 185.5 462.9 185.8 450.4 186.2 455.3 186.5 463.5 186.8 462.5 187.2 462.7 187.5 469.5 187.8 450.8 188.2 473.1 188.5 457.2 188.8 462.1 189.2 475.8 189.5 458.1 189.8 462.4 190.2 468.5 190.5 457.5 190.8 475.4 191.2 451.8 191.5 463.3 191.8 465.1 192.2 461.8 192.5 461.5 192.8 470.6 193.2 455.3 193.5 463.1 193.8 459.4 194.2 462.3 194.5 467.2 194.8 471.1 195.2 462.6 195.5 464.9 195.8 461.6 196.2 458.4 196.5 469.5 196.8 452.5 197.2 473.5 197.5 462.0 197.8 454.9 198.2 458.5 198.5 468.2 198.8 472.3 199.2 462.4 199.5 470.3 199.8 463.4 200.2 463.3 200.5 471.5 200.8 457.9 201.2 472.8 201.5 463.2 201.8 464.8 202.2 470.7 202.5 460.5 202.8 462.7 203.2 461.6 203.5 465.8 203.8 472.7 204.2 459.2 204.5 462.3 204.8 455.3 205.2 462.3 205.5 459.8 205.8 457.3 206.2 463.7 206.5 454.0 206.8 458.4 207.2 465.1 207.5 458.6 207.8 465.7 208.2 454.1 208.5 461.7 208.8 454.6 209.2 471.7 209.5 460.5 209.8 462.4 210.2 464.9 210.5 457.8 210.8 462.9 211.2 461.5 211.5 463.6 211.8 468.6 212.2 457.8 212.5 465.8 212.8 457.4 213.2 464.8 213.5 458.0 213.8 462.3 214.2 459.1 214.5 466.7 214.8 458.0 215.2 463.6 215.5 453.8 215.8 465.5 216.2 445.8 216.5 459.3 216.8 454.6 217.2 455.9 217.5 445.6 217.8 452.5 218.2 457.3 218.5 449.7 218.8 449.8 219.2 458.0 219.5 454.6 219.8 457.4 220.2 461.2 220.5 456.6 220.8 465.4 221.2 449.2 221.5 457.9 221.8 451.9 222.2 460.5 222.5 450.2 222.8 462.8 223.2 460.9 223.5 453.6 223.8 459.5 224.2 457.1 224.5 458.0 224.8 451.0 225.2 460.5 225.5 456.7 225.8 458.0 226.2 458.5 226.5 456.0 226.8 458.1 227.2 458.2 227.5 454.9 227.8 458.5 228.2 450.3 228.5 464.5 228.8 459.1 229.2 457.7 229.5 458.9 229.8 464.0 230.2 462.0 230.5 459.9 230.8 464.3 231.2 454.8 231.5 464.8 231.8 460.0 232.2 466.8 232.5 457.2 232.8 461.9 233.2 453.6 233.5 458.0 233.8 466.6 234.2 468.4 234.5 456.4 234.8 463.2 235.2 456.0 235.5 460.2 235.8 453.4 236.2 462.6 236.5 464.0 236.8 453.2 237.2 461.0 237.5 453.5 237.8 457.6 238.2 451.7 238.5 447.3 238.8 460.6 239.2 446.2 239.5 461.4 239.8 452.0 240.2 457.0 240.5 454.4 240.8 456.0 241.2 455.8 241.5 455.5 241.8 460.4 242.2 447.1 242.5 459.3 242.8 457.0 243.2 454.9 243.5 448.6 243.8 458.4 244.2 455.3 244.5 452.7 244.8 457.5 245.2 456.6 245.5 458.2 245.8 451.8 246.2 462.7 246.5 456.2 246.8 460.7 247.2 456.8 247.5 453.5 247.8 456.8 248.2 456.1 248.5 460.7 248.8 456.8 249.2 454.5 249.5 465.3 249.8 450.7 250.2 449.1 250.5 457.7 250.8 449.1 251.2 460.0 251.5 456.7 251.8 457.9 252.2 450.6 252.5 462.9 252.8 457.0 253.2 454.4 253.5 456.3 253.8 460.2 254.2 456.4 254.5 460.0 254.8 453.5 255.2 458.5 255.5 453.1 255.8 458.0 256.2 449.5 256.5 453.7 256.8 454.4 257.2 452.4 257.5 454.2 257.8 449.1 258.2 453.0 258.5 446.8 258.8 450.8 259.2 450.1 259.5 450.5 259.8 449.9 260.2 452.7 260.5 446.2 260.8 450.9 261.2 442.5 261.5 456.1 261.8 447.0 262.2 449.7 262.5 448.7 262.8 450.1 263.2 454.3 263.5 453.7 263.8 442.4 264.2 455.9 264.5 442.7 264.8 451.1 265.2 450.0 265.5 454.3 265.8 447.6 266.2 455.0 266.5 451.2 266.8 451.6 267.2 447.5 267.5 451.5 267.8 444.0 268.2 453.1 268.5 442.1 268.8 451.4 269.2 447.2 269.5 452.4 269.8 454.7 270.2 460.0 270.5 448.2 270.8 447.2 271.2 455.0 271.5 447.2 271.8 448.6 272.2 453.9 272.5 448.3 272.8 452.1 273.2 448.6 273.5 452.4 273.8 450.3 274.2 454.2 274.5 452.2 274.8 453.0 275.2 448.5 275.5 455.5 275.8 450.3 276.2 455.7 276.5 450.6 276.8 449.9 277.2 453.4 277.5 447.4 277.8 451.4 278.2 446.4 278.5 450.8 278.8 449.4 279.2 456.5 279.5 450.6 279.8 448.5 280.2 449.9 280.5 441.2 280.8 449.6 281.2 447.7 281.5 450.2 281.8 448.4 282.2 451.5 282.5 450.2 282.8 443.1 283.2 450.9 283.5 445.3 283.8 449.3 284.2 444.4 284.5 446.6 284.8 450.5 285.2 447.1 285.5 449.8 285.8 449.5 286.2 453.6 286.5 448.0 286.8 444.4 287.2 457.5 287.5 444.0 287.8 459.5 288.2 449.5 288.5 454.6 288.8 453.1 289.2 448.9 289.5 449.6 289.8 448.2 290.2 453.7 290.5 447.6 290.8 446.6 291.2 451.2 291.5 441.3 291.8 450.8 292.2 449.3 292.5 443.3 292.8 457.8 293.2 449.7 293.5 450.5 293.8 444.4 294.2 444.5 294.5 442.9 294.8 449.8 295.2 453.4 295.5 443.1 295.8 455.6 296.2 445.7 296.5 455.4 296.8 449.4 297.2 457.1 297.5 457.1 297.8 461.1 298.2 457.1 298.5 454.6 298.8 468.4 299.2 457.2 299.5 460.6 299.8 455.4 300.2 460.0 300.5 467.3 300.8 459.6 301.2 463.1 301.5 457.8 301.8 466.4 302.2 460.6 302.5 462.1 302.8 465.0 303.2 458.3 303.5 455.7 303.8 464.4 304.2 457.0 304.5 458.2 304.8 454.4 305.2 467.5 305.5 451.1 305.8 455.1 306.2 458.3 306.5 457.6 306.8 466.1 307.2 457.2 307.5 461.2 307.8 452.9 308.2 462.1 308.5 445.7 308.8 465.7 309.2 463.2 309.5 453.1 309.8 451.2 310.2 445.1 310.5 459.0 310.8 451.3 311.2 459.6 311.5 459.5 311.8 448.9 312.2 457.2 312.5 460.8 312.8 451.7 313.2 462.7 313.5 447.9 313.8 464.8 314.2 458.2 314.5 470.7 314.8 456.8 315.2 460.8 315.5 461.4 315.8 454.0 316.2 461.9 316.5 453.2 316.8 464.1 317.2 454.0 317.5 468.6 317.8 460.3 318.2 474.8 318.5 463.4 318.8 467.6 319.2 453.4 319.5 458.0 319.8 465.2 320.2 463.4 320.5 454.5 320.8 471.4 321.2 461.2 321.5 455.1 321.8 461.5 322.2 463.0 322.5 452.1 322.8 460.4 323.2 464.2 323.5 454.4 323.8 453.2 324.2 466.6 324.5 447.1 324.8 453.5 325.2 462.2 325.5 455.1 325.8 458.5 326.2 451.7 326.5 455.8 326.8 465.8 327.2 455.9 327.5 458.8 327.8 450.9 328.2 457.5 328.5 452.4 328.8 457.1 329.2 451.8 329.5 459.7 329.8 456.1 330.2 460.6 330.5 451.7 330.8 452.3 331.2 460.1 331.5 453.8 331.8 458.4 332.2 453.5 332.5 460.8 332.8 455.7 333.2 458.1 333.5 450.7 333.8 464.3 334.2 454.2 334.5 458.2 334.8 453.0 335.2 459.1 335.5 455.6 335.8 466.8 336.2 453.1 336.5 458.7 336.8 466.6 337.2 459.4 337.5 468.0 337.8 458.7 338.2 463.1 338.5 456.8 338.8 462.7 339.2 461.5 339.5 466.2 339.8 456.9 340.2 464.0 340.5 456.3 340.8 463.6 341.2 461.1 341.5 460.2 341.8 462.4 342.2 460.7 342.5 458.4 342.8 461.8 343.2 458.8 343.5 459.2 343.8 461.1 344.2 455.3 344.5 463.2 344.8 454.9 345.2 456.6 345.5 457.1 345.8 456.2 346.2 456.0 346.5 459.6 346.8 455.3 347.2 461.2 347.5 454.5 347.8 457.5 348.2 450.9 348.5 461.4 348.8 451.4 349.2 454.5 349.5 454.3 349.8 454.5 350.2 447.6 350.5 454.4 350.8 450.9 351.2 458.5 351.5 450.7 351.8 453.5 352.2 455.4 352.5 451.3 352.8 454.3 353.2 454.8 353.5 450.8 353.8 455.5 354.2 459.4 354.5 453.0 354.8 457.2 355.2 452.5 355.5 454.7 355.8 451.2 356.2 453.7 356.5 448.8 356.8 454.2 357.2 450.0 357.5 456.2 357.8 453.3 358.2 453.8 358.5 452.3 358.8 457.4 359.2 454.0 359.5 450.6 359.8 454.8 360.2 453.5 360.5 454.8 360.8 455.0 361.2 457.2 361.5 449.0 361.8 454.8 362.2 450.7 362.5 452.5 362.8 456.5 363.2 452.4 363.5 454.2 363.8 458.5 364.2 449.3 364.5 453.4 364.8 453.7 365.2 452.5 365.5 454.3 365.8 451.7 366.2 458.0 366.5 446.9 366.8 458.3 367.2 449.9 367.5 454.4 367.8 457.7 368.2 456.9 368.5 449.3 368.8 457.4 369.2 452.8 369.5 456.4 369.8 452.3 370.2 461.3 370.5 451.3 370.8 461.7 371.2 454.8 371.5 455.8 371.8 455.0 372.2 460.5 372.5 453.1 372.8 456.6 373.2 450.4 373.5 454.5 373.8 456.6 374.2 456.3 374.5 446.8 374.8 451.3 375.2 449.9 375.5 454.8 375.8 445.7 376.2 449.7 376.5 444.9 376.8 443.8 377.2 451.6 377.5 448.2 377.8 444.9 378.2 448.0 378.5 440.6 378.8 455.7 379.2 445.0 379.5 455.8 379.8 450.3 380.2 447.9 380.5 456.4 380.8 450.7 381.2 452.8 381.5 447.4 381.8 450.8 382.2 450.8 382.5 455.3 382.8 448.7 383.2 451.7 383.5 449.5 383.8 452.4 384.2 449.0 384.5 456.1 384.8 453.0 385.2 446.1 385.5 457.5 385.8 445.7 386.2 452.9 386.5 453.2 386.8 450.1 387.2 459.0 387.5 450.6 387.8 451.4 388.2 445.1 388.5 448.5 388.8 453.3 389.2 449.2 389.5 456.9 389.8 442.8 390.2 450.8 390.5 448.6 390.8 450.9 391.2 447.9 391.5 451.1 391.8 444.6 392.2 451.0 392.5 449.0 392.8 447.5 393.2 449.6 393.5 448.7 393.8 449.6 394.2 444.0 394.5 449.5 394.8 446.8 395.2 456.2 395.5 442.6 395.8 451.8 396.2 447.8 396.5 453.4 396.8 443.7 397.2 447.6 397.5 450.5 397.8 453.2 398.2 447.4 398.5 447.2 398.8 447.7 399.2 450.0 399.5 445.1 399.8 453.5 400.2 447.6 400.5 448.1 400.8 446.8 401.2 449.3 401.5 447.4 401.8 454.3 402.2 456.3 402.5 444.1 402.8 449.0 403.2 453.4 403.5 446.0 403.8 459.3 404.2 444.5 404.5 455.4 404.8 455.1 405.2 443.9 405.5 455.0 405.8 454.2 406.2 452.1 406.5 449.4 406.8 452.3 407.2 455.8 407.5 451.2 407.8 455.0 408.2 448.9 408.5 452.4 408.8 447.6 409.2 456.5 409.5 452.7 409.8 452.5 410.2 452.3 410.5 449.8 410.8 449.0 411.2 453.5 411.5 449.5 411.8 443.1 412.2 456.7 412.5 455.0 412.8 443.0 413.2 449.3 413.5 445.0 413.8 454.8 414.2 447.1 414.5 453.2 414.8 448.4 415.2 453.3 415.5 449.1 415.8 454.6 416.2 448.6 416.5 455.9 416.8 452.0 417.0 482.6 417.5 459.3 417.8 462.0 418.2 457.1 418.5 468.7 418.8 454.0 419.2 469.9 419.5 455.8 419.8 467.3 420.2 459.9 420.5 463.2 420.8 448.9 421.2 464.5 421.5 460.5 421.8 463.7 422.2 458.3 422.5 467.0 422.8 457.2 423.2 467.6 423.5 459.8 423.8 465.7 424.2 462.6 424.5 457.4 424.8 470.0 425.2 457.7 425.5 467.5 425.8 471.7 426.2 456.0 426.5 474.0 426.8 470.5 427.2 462.4 427.5 466.4 427.8 463.3 428.2 454.4 428.5 470.4 428.8 457.7 429.2 461.3 429.5 460.7 429.8 464.9 430.2 469.5 430.5 462.1 430.8 459.5 431.2 459.5 431.5 460.6 431.8 454.6 432.2 459.9 432.5 456.2 432.8 467.9 433.2 466.5 433.5 456.1 433.8 458.4 434.2 461.3 434.5 458.6 434.8 460.1 435.2 459.5 435.5 460.4 435.8 463.3 436.2 457.5 436.5 457.1 436.8 464.1 437.2 453.0 437.5 462.3 437.8 462.4 438.2 456.8 438.5 460.6 438.8 462.0 439.2 454.1 439.5 463.4 439.8 460.2 440.2 461.1 440.5 465.0 440.8 459.6 441.2 463.5 441.5 456.1 441.8 466.9 442.2 459.4 442.5 462.7 442.8 466.5 443.2 459.3 443.5 463.5 443.8 458.6 444.2 457.6 444.5 464.9 444.8 460.2 445.2 454.3 445.5 465.7 445.8 457.7 446.2 460.3 446.5 459.5 446.8 462.7 447.2 454.3 447.5 459.9 447.8 462.0 448.2 451.5 448.5 461.9 448.8 457.0 449.2 461.8 449.5 456.7 449.8 461.2 450.2 457.6 450.5 454.2 450.8 462.9 451.2 463.2 451.5 458.4 451.8 457.5 452.2 451.3 452.5 461.7 452.8 457.5 453.2 464.0 453.5 457.0 453.8 459.1 454.2 457.3 454.5 458.2 454.8 452.6 455.2 464.7 455.5 458.5 455.8 460.7 456.2 456.4 456.5 455.8 456.8 457.3 457.2 462.1 457.5 456.0 457.8 465.6 458.2 464.9 458.5 456.7 458.8 462.0 459.2 459.7 459.5 460.0 459.8 461.5 460.2 461.4 460.5 460.6 460.8 458.7 461.2 462.4 461.5 456.6 461.8 461.9 462.2 459.2 462.5 466.1 462.8 460.8 463.2 459.2 463.5 455.0 463.8 458.8 464.2 459.1 464.5 462.5 464.8 454.9 465.2 454.1 465.5 458.9 465.8 454.7 466.2 458.4 466.5 456.5 466.8 459.6 467.2 450.7 467.5 458.1 467.8 462.7 468.2 458.0 468.5 461.5 468.8 457.6 469.2 458.4 469.5 451.7 469.8 459.4 470.2 454.4 470.5 459.1 470.8 464.4 471.2 458.5 471.5 456.0 471.8 462.1 472.2 456.6 472.5 459.0 472.8 457.5 473.2 462.2 473.5 451.8 473.8 458.3 474.2 455.2 474.5 460.7 474.8 463.4 475.2 458.3 475.5 455.8 475.8 461.3 476.2 456.0 476.5 458.1 476.8 453.8 477.2 457.9 477.5 461.0 477.8 462.3 478.2 459.0 478.5 461.9 478.8 452.5 479.2 461.9 479.5 457.5 479.8 460.0 480.2 455.2 480.5 466.4 480.8 463.9 481.2 456.3 481.5 463.4 481.8 452.7 482.2 463.1 482.5 455.7 482.8 461.8 483.2 464.4 483.5 458.0 483.8 458.3 484.2 454.7 484.5 463.2 484.8 457.5 485.2 457.7 485.5 451.1 485.8 456.8 486.2 458.3 486.5 454.4 486.8 460.1 487.2 451.4 487.5 457.9 487.8 456.8 488.2 457.8 488.5 456.8 488.8 456.9 489.2 457.7 489.5 456.9 489.8 457.2 490.2 457.2 490.5 459.2 490.8 456.9 491.2 457.2 491.5 453.5 491.8 462.7 492.2 451.3 492.5 460.4 492.8 451.5 493.2 457.0 493.5 454.5 493.8 457.8 494.2 451.0 494.5 460.1 494.8 459.4 495.2 450.1 495.5 453.5 495.8 457.5 496.2 452.9 496.5 452.0 496.8 456.5 497.2 457.3 497.5 452.1 497.8 453.5 498.2 449.6 498.5 457.6 498.8 447.9 499.2 453.7 499.5 456.9 499.8 453.8 500.2 454.0 500.5 448.0 500.8 453.7 501.2 448.2 501.5 454.0 501.8 456.2 502.2 451.6 502.5 453.6 502.8 454.0 503.2 450.0 503.5 456.8 503.8 454.7 504.2 452.9 504.5 455.5 504.8 460.0 505.2 452.0 505.5 455.8 505.8 450.2 506.2 453.7 506.5 453.1 506.8 454.1 507.2 451.3 507.5 454.7 507.8 452.8 508.2 453.7 508.5 451.7 508.8 453.5 509.2 452.2 509.5 453.3 509.8 454.8 510.2 454.3 510.5 449.6 510.8 456.9 511.2 453.3 511.5 453.9 511.8 453.0 512.2 457.8 512.5 447.4 512.8 452.5 513.2 452.6 513.5 451.2 513.8 457.9 514.2 448.8 514.5 452.2 514.8 450.0 515.2 456.2 515.5 449.4 515.8 453.0 516.2 444.9 516.5 454.8 516.8 447.8 517.2 449.3 517.5 445.1 517.8 448.5 518.2 444.2 518.5 452.1 518.8 446.8 519.2 448.8 519.5 446.8 519.8 451.2 520.2 444.0 520.5 441.3 520.8 448.5 521.2 441.2 521.5 448.0 521.8 450.4 522.2 448.3 522.5 449.7 522.8 447.8 523.2 452.0 523.5 443.6 523.8 450.2 524.2 443.6 524.5 451.2 524.8 449.6 525.2 443.3 525.5 450.0 525.8 451.7 526.2 452.7 526.5 452.8 526.8 449.2 527.2 451.9 527.5 447.5 527.8 453.6 528.2 448.7 528.5 448.6 528.8 455.0 529.2 447.7 529.5 449.7 529.8 446.5 530.2 448.8 530.5 444.3 530.8 450.7 531.2 444.0 531.5 445.8 531.8 446.5 532.2 449.6 532.5 447.6 532.8 442.0 533.2 453.0 533.5 442.8 533.8 450.5 534.2 447.1 534.5 444.5 534.8 448.6 535.2 439.3 535.5 447.3 535.8 443.4 536.2 448.4 536.5 443.3 536.8 443.8 537.2 440.3 537.5 446.5 537.8 442.9 538.2 448.5 538.5 445.6 538.8 443.7 539.2 448.6 539.5 445.2 539.8 448.4 540.2 442.1 540.5 443.3 540.8 448.5 541.2 450.5 541.5 450.7 541.8 461.4 542.2 446.0 542.5 454.0 542.8 456.5 543.2 454.5 543.5 459.7 543.8 459.6 544.2 449.5 544.5 460.9 544.8 456.2 545.2 474.5 545.5 459.0 545.8 477.7 546.2 463.4 546.5 467.6 546.8 460.7 547.2 469.7 547.5 471.3 547.8 464.9 548.2 469.9 548.5 462.4 548.8 469.0 549.2 460.6 549.5 472.8 549.8 467.5 550.2 474.0 550.5 456.4 550.8 470.1 551.2 479.5 551.5 467.4 551.8 470.0 552.2 475.3 552.5 456.8 552.8 468.9 553.2 457.9 553.5 467.8 553.8 466.6 554.2 468.5 554.5 453.8 554.8 455.5 555.2 473.6 555.5 456.9 555.8 464.6 556.2 472.4 556.5 456.9 556.8 461.7 557.2 463.7 557.5 459.8 557.8 473.7 558.2 463.9 558.5 454.7 558.8 461.4 559.2 455.7 559.5 460.4 559.8 466.9 560.2 457.4 560.5 464.5 560.8 459.2 561.2 463.3 561.5 458.7 561.8 460.9 562.2 456.0 562.5 464.0 562.8 456.8 563.2 458.9 563.5 454.9 563.8 458.8 564.2 459.1 564.5 456.5 564.8 461.3 565.2 459.0 565.5 470.3 565.8 454.7 566.2 463.4 566.5 468.0 566.8 454.4 567.2 460.4 567.5 455.1 567.8 450.6 568.2 467.0 568.5 457.2 568.8 461.2 569.2 460.3 569.5 459.5 569.8 458.2 570.2 469.5 570.5 462.5 570.8 457.3 571.2 459.7 571.5 453.6 571.8 459.8 572.2 458.4 572.5 463.0 572.8 467.7 573.2 458.0 573.5 460.4 573.8 465.2 574.2 468.9 574.5 459.6 574.8 460.8 575.2 465.6 575.5 451.5 575.8 462.5 576.2 467.1 576.5 456.1 576.8 461.3 577.2 456.2 577.5 464.3 577.8 451.9 578.2 459.6 578.5 451.6 578.8 450.8 579.2 462.4 579.5 459.1 579.8 458.4 580.2 457.3 580.5 459.2 580.8 453.6 581.2 461.9 581.5 449.7 581.8 463.4 582.2 461.0 582.5 458.2 582.8 460.5 583.2 457.4 583.5 457.4 583.8 453.4 584.2 455.7 584.5 455.5 584.8 452.2 585.2 455.6 585.5 447.5 585.8 461.4 586.2 454.7 586.5 459.2 586.8 455.0 587.2 457.3 587.5 453.5 587.8 460.4 588.2 449.1 588.5 451.2 588.8 457.7 589.2 456.9 589.5 458.5 589.8 449.1 590.2 458.5 590.5 451.2 590.8 460.2 591.2 455.6 591.5 459.9 591.8 456.2 592.2 462.6 592.5 454.2 592.8 457.6 593.2 453.3 593.5 462.0 593.8 451.7 594.2 459.8 594.5 458.3 594.8 461.9 595.2 460.1 595.5 457.6 595.8 459.5 596.2 453.9 596.5 461.1 596.8 459.2 597.2 461.6 597.5 464.1 597.8 456.8 598.2 455.2 598.5 467.4 598.8 464.2 599.2 454.9 599.5 462.6 599.8 456.4 600.2 450.0 600.5 459.9 600.8 456.4 601.2 460.8 601.5 456.5 601.8 460.6 602.2 455.6 602.5 456.5 602.8 453.2 603.2 458.0 603.5 447.0 603.8 454.5 604.2 448.9 604.5 458.0 604.8 446.4 605.2 450.4 605.5 458.0 605.8 450.7 606.2 457.4 606.5 453.1 606.8 453.1 607.2 458.0 607.5 452.1 607.8 455.5 608.2 455.5 608.5 453.5 608.8 456.1 609.2 449.5 609.5 461.2 609.8 455.3 610.2 448.9 610.5 457.4 610.8 455.4 611.2 456.4 611.5 455.2 611.8 455.7 612.2 459.9 612.5 451.8 612.8 459.0 613.2 451.0 613.5 461.8 613.8 456.0 614.2 454.1 614.5 457.4 614.8 454.7 615.2 458.5 615.5 454.6 615.8 464.4 616.2 461.2 616.5 455.8 616.8 462.6 617.2 453.6 617.5 457.9 617.8 453.6 618.2 457.8 618.5 448.6 618.8 456.4 619.2 454.9 619.5 459.8 619.8 454.1 620.2 461.2 620.5 450.0 620.8 462.9 621.2 451.5 621.5 454.9 621.8 452.4 622.2 454.9 622.5 443.1 622.8 450.6 623.2 452.4 623.5 444.7 623.8 444.4 624.2 452.3 624.5 449.5 624.8 448.4 625.2 439.6 625.5 455.2 625.8 443.7 626.2 448.6 626.5 443.2 626.8 441.9 627.2 447.5 627.5 448.6 627.8 441.1 628.2 450.4 628.5 445.2 628.8 454.4 629.2 449.6 629.5 447.2 629.8 449.8 630.2 451.9 630.5 452.0 630.8 450.5 631.2 457.6 631.5 446.2 631.8 453.4 632.2 449.5 632.5 453.3 632.8 444.3 633.2 451.6 633.5 449.1 633.8 451.6 634.2 447.0 634.5 452.9 634.8 450.7 635.2 452.7 635.5 454.7 635.8 446.1 636.2 459.7 636.5 445.0 636.8 452.2 637.2 451.8 637.5 448.8 637.8 451.7 638.2 451.1 638.5 454.8 638.8 446.5 639.2 455.7 639.5 451.9 639.8 458.1 640.2 447.6 640.5 455.2 640.8 449.5 641.2 451.4 641.5 453.7 641.8 459.8 642.2 452.7 642.5 457.6 642.8 450.9 643.2 455.9 643.5 446.3 643.8 458.0 644.2 445.6 644.5 451.1 644.8 460.4 645.2 446.2 645.5 457.5 645.8 451.9 646.2 451.3 646.5 455.1 646.8 448.3 647.2 450.5 647.5 445.5 647.8 451.6 648.2 444.9 648.5 449.5 648.8 446.7 649.2 449.2 649.5 448.7 649.8 449.3 650.2 447.9 650.5 449.3 650.8 448.9 651.2 447.9 651.5 448.3 651.8 446.8 652.2 448.4 652.5 453.3 652.8 447.9 653.2 446.3 653.5 454.3 653.8 441.4 654.2 444.1 654.5 447.6 654.8 443.8 655.2 447.5 655.5 446.6 655.8 447.6 656.2 445.7 656.5 446.0 656.8 445.8 657.2 446.1 657.5 442.6 657.8 446.3 658.2 447.8 658.5 444.8 658.8 446.0 659.2 441.9 659.5 449.9 659.8 445.3 660.2 449.1 660.5 445.5 660.8 447.0 661.2 445.8 661.5 485.7 661.8 454.3 662.2 467.0 662.5 465.8 662.8 474.1 663.2 462.7 663.5 474.7 663.8 455.2 664.2 469.3 664.5 452.8 664.8 473.0 665.2 459.1 665.5 465.3 665.8 465.5 666.2 463.7 666.5 463.2 666.8 478.4 667.2 471.4 667.5 456.3 667.8 473.9 668.2 466.1 668.5 464.7 668.8 464.0 669.2 466.9 669.5 464.0 669.8 467.8 670.2 454.4 670.5 457.2 670.8 465.3" fill="none" stroke="#0072BD" stroke-width="1.2" stroke-linejoin="round"/>
<text class="lab" x="364.8" y="565.6" text-anchor="middle">Time(s)</text>
</svg></body></html>
